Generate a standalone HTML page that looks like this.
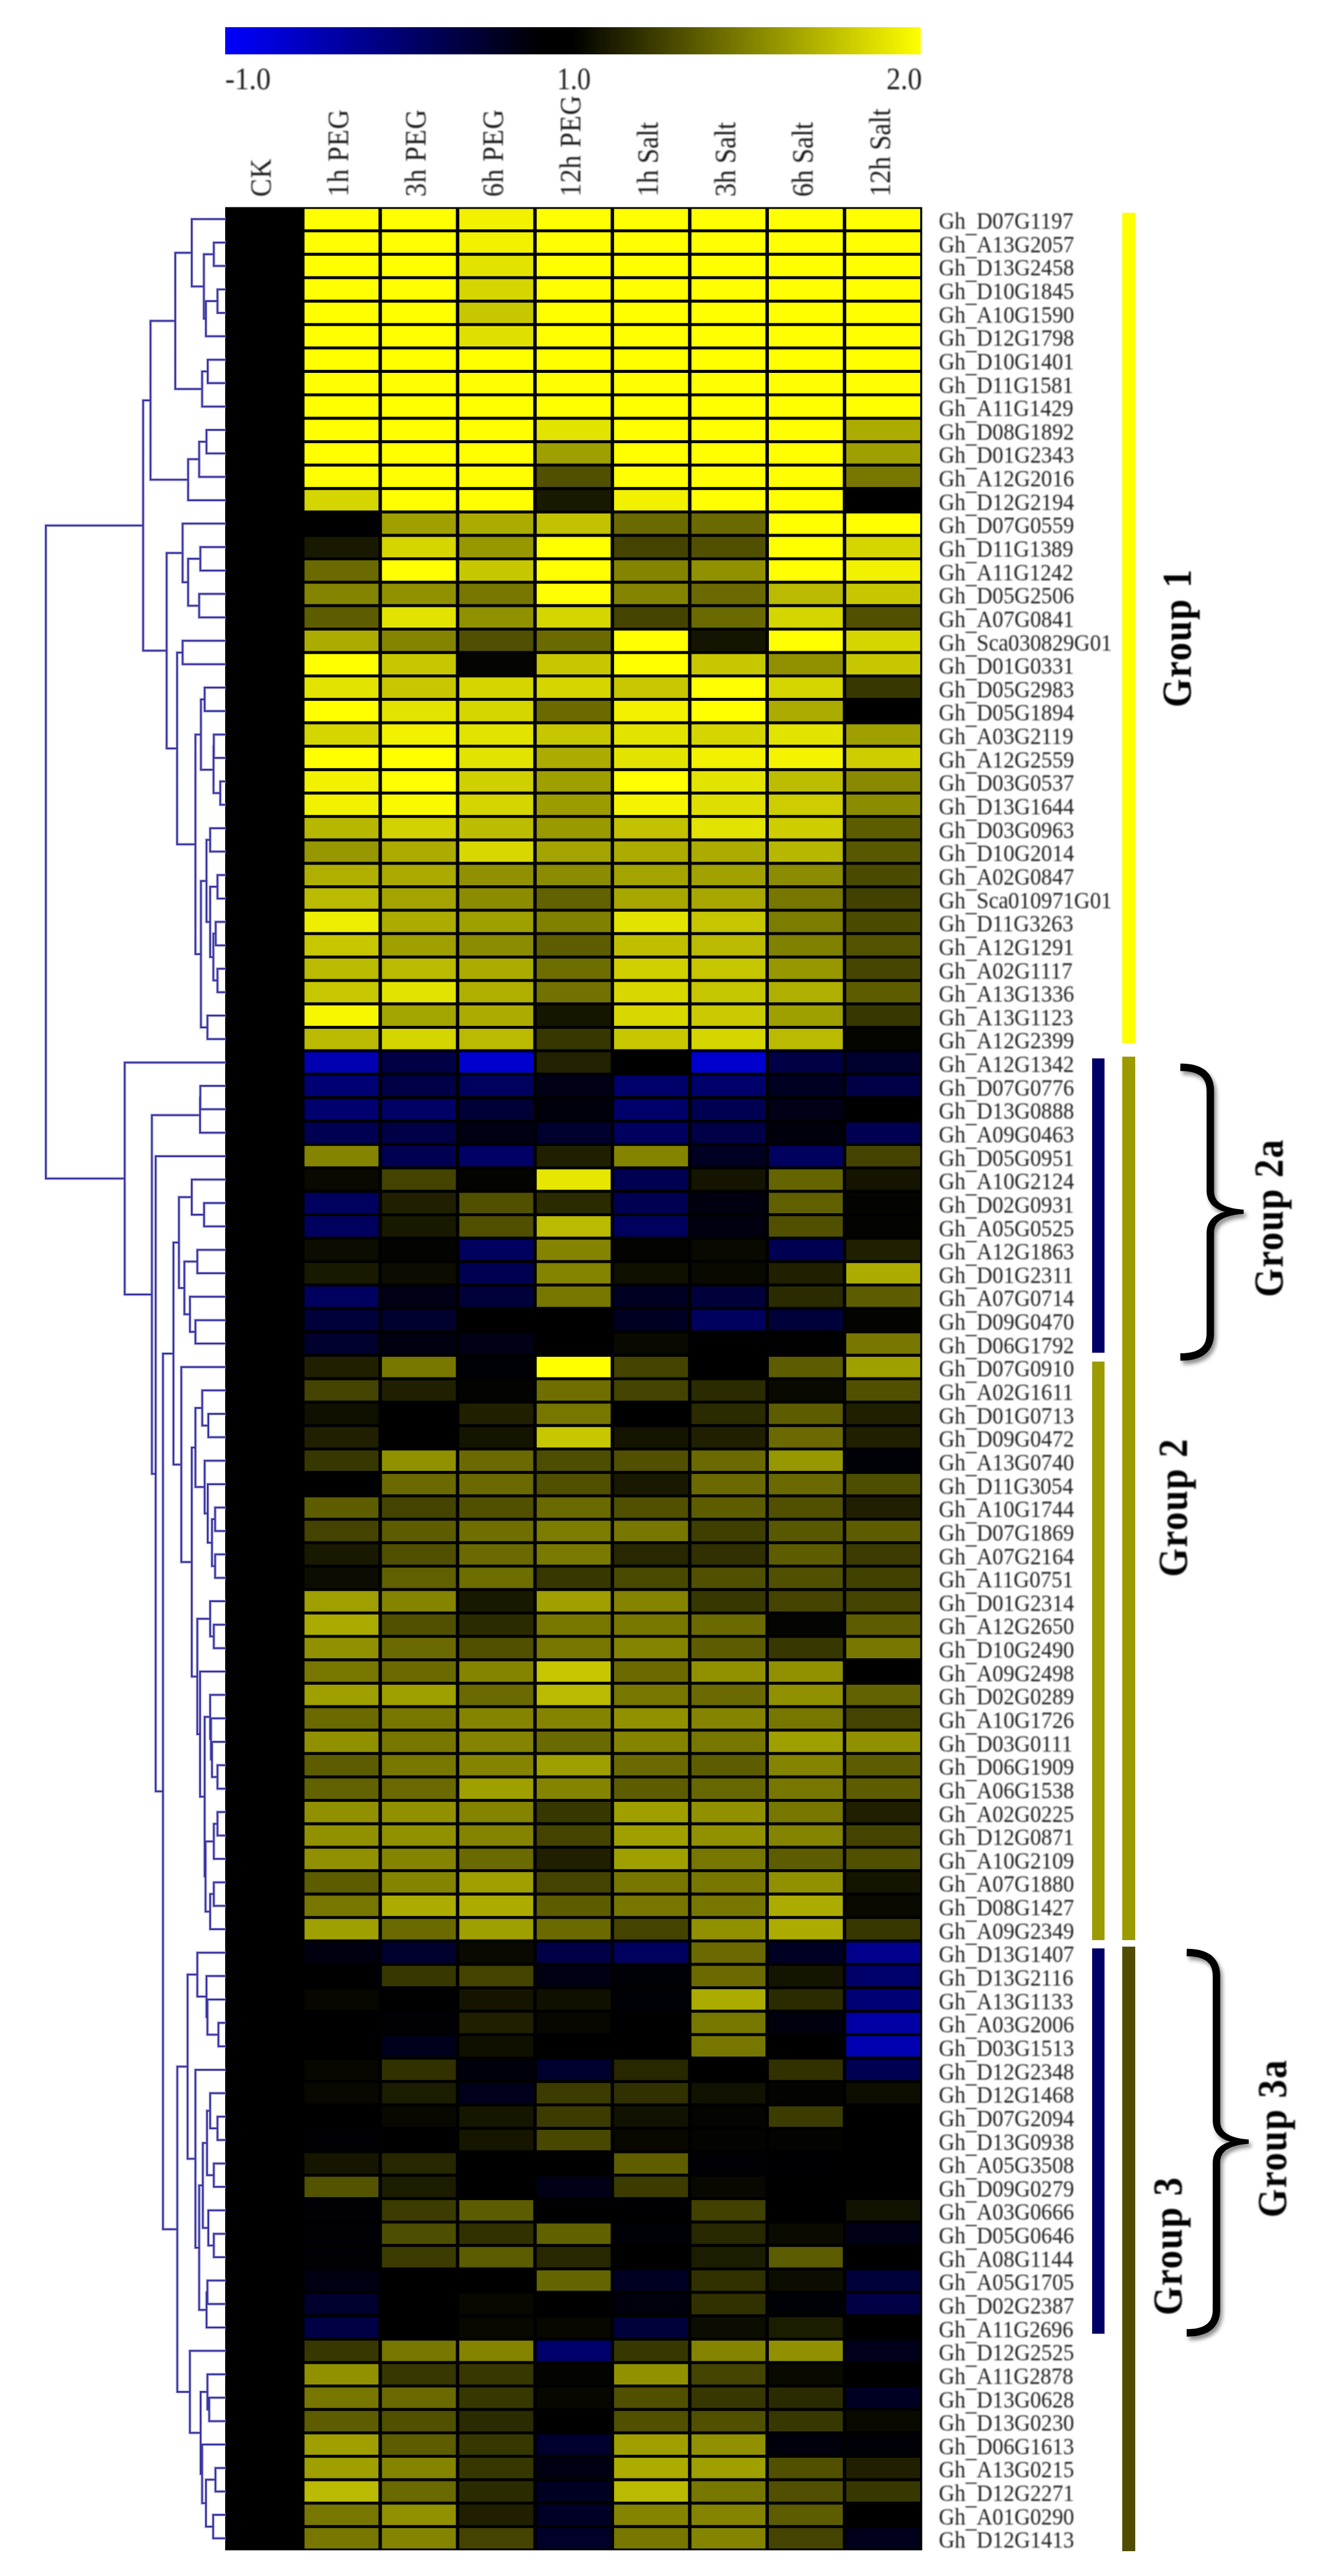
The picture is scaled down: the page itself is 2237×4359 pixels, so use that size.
<!DOCTYPE html>
<html><head><meta charset="utf-8"><title>Heatmap</title>
<style>html,body{margin:0;padding:0;background:#fff}svg{display:block}text{font-family:"Liberation Serif",serif;fill:#1c1c1c;filter:url(#bl)}.g text{font-size:40.4px;fill:#222}.b{font-weight:bold;fill:#000}.d path{fill:none;stroke:#3a36a0;stroke-width:3}.d path.h{stroke:#d8d8f0;stroke-width:6}</style></head><body>
<svg width="2237" height="4359" viewBox="0 0 2237 4359">
<defs><linearGradient id="cb" x1="0" x2="1" y1="0" y2="0"><stop offset="0" stop-color="#0000ff"/><stop offset="0.455" stop-color="#000000"/><stop offset="0.5" stop-color="#000000"/><stop offset="1" stop-color="#ffff00"/></linearGradient><filter id="bl" x="-2%" y="-2%" width="104%" height="104%"><feGaussianBlur stdDeviation="1.1"/></filter><filter id="sh" x="-30%" y="-10%" width="160%" height="120%"><feGaussianBlur in="SourceAlpha" stdDeviation="3.5"/><feOffset dx="4" dy="6"/><feComponentTransfer><feFuncA type="linear" slope="0.45"/></feComponentTransfer><feMerge><feMergeNode/><feMergeNode in="SourceGraphic"/></feMerge></filter></defs>
<rect width="2237" height="4359" fill="#fff"/>
<rect x="381" y="46" width="1177" height="46" fill="url(#cb)"/>
<text x="381" y="151" font-size="52" textLength="77" lengthAdjust="spacingAndGlyphs">-1.0</text>
<text x="942.5" y="151" font-size="52" textLength="57" lengthAdjust="spacingAndGlyphs">1.0</text>
<text x="1500" y="151" font-size="52" textLength="60" lengthAdjust="spacingAndGlyphs">2.0</text>
<text transform="translate(458.0,333) rotate(-90) scale(0.9,1)" font-size="51" letter-spacing="0.8">CK</text>
<text transform="translate(589.0,333) rotate(-90) scale(0.9,1)" font-size="51" letter-spacing="0.8">1h PEG</text>
<text transform="translate(720.0,333) rotate(-90) scale(0.9,1)" font-size="51" letter-spacing="0.8">3h PEG</text>
<text transform="translate(851.0,333) rotate(-90) scale(0.9,1)" font-size="51" letter-spacing="0.8">6h PEG</text>
<text transform="translate(982.0,333) rotate(-90) scale(0.9,1)" font-size="51" letter-spacing="0.8">12h PEG</text>
<text transform="translate(1113.0,333) rotate(-90) scale(0.9,1)" font-size="51" letter-spacing="-0.4">1h Salt</text>
<text transform="translate(1244.0,333) rotate(-90) scale(0.9,1)" font-size="51" letter-spacing="-0.4">3h Salt</text>
<text transform="translate(1375.0,333) rotate(-90) scale(0.9,1)" font-size="51" letter-spacing="-0.4">6h Salt</text>
<text transform="translate(1506.0,333) rotate(-90) scale(0.9,1)" font-size="51" letter-spacing="-0.4">12h Salt</text>
<rect x="381.0" y="350.5" width="1179.5" height="3965.0" fill="#000"/>
<rect x="515.3" y="353.5" width="125.1" height="34.6" fill="#ffff00"/>
<rect x="646.3" y="353.5" width="125.1" height="34.6" fill="#ffff00"/>
<rect x="777.2" y="353.5" width="125.1" height="34.6" fill="#f1f100"/>
<rect x="908.2" y="353.5" width="125.1" height="34.6" fill="#ffff00"/>
<rect x="1039.1" y="353.5" width="125.1" height="34.6" fill="#ffff00"/>
<rect x="1170.1" y="353.5" width="125.1" height="34.6" fill="#ffff00"/>
<rect x="1301.0" y="353.5" width="125.1" height="34.6" fill="#ffff00"/>
<rect x="1432.0" y="353.5" width="125.1" height="34.6" fill="#ffff00"/>
<rect x="515.3" y="393.1" width="125.1" height="34.6" fill="#ffff00"/>
<rect x="646.3" y="393.1" width="125.1" height="34.6" fill="#ffff00"/>
<rect x="777.2" y="393.1" width="125.1" height="34.6" fill="#f1f100"/>
<rect x="908.2" y="393.1" width="125.1" height="34.6" fill="#ffff00"/>
<rect x="1039.1" y="393.1" width="125.1" height="34.6" fill="#ffff00"/>
<rect x="1170.1" y="393.1" width="125.1" height="34.6" fill="#ffff00"/>
<rect x="1301.0" y="393.1" width="125.1" height="34.6" fill="#ffff00"/>
<rect x="1432.0" y="393.1" width="125.1" height="34.6" fill="#ffff00"/>
<rect x="515.3" y="432.8" width="125.1" height="34.6" fill="#ffff00"/>
<rect x="646.3" y="432.8" width="125.1" height="34.6" fill="#ffff00"/>
<rect x="777.2" y="432.8" width="125.1" height="34.6" fill="#e3e300"/>
<rect x="908.2" y="432.8" width="125.1" height="34.6" fill="#ffff00"/>
<rect x="1039.1" y="432.8" width="125.1" height="34.6" fill="#ffff00"/>
<rect x="1170.1" y="432.8" width="125.1" height="34.6" fill="#ffff00"/>
<rect x="1301.0" y="432.8" width="125.1" height="34.6" fill="#ffff00"/>
<rect x="1432.0" y="432.8" width="125.1" height="34.6" fill="#ffff00"/>
<rect x="515.3" y="472.4" width="125.1" height="34.6" fill="#ffff00"/>
<rect x="646.3" y="472.4" width="125.1" height="34.6" fill="#ffff00"/>
<rect x="777.2" y="472.4" width="125.1" height="34.6" fill="#d5d500"/>
<rect x="908.2" y="472.4" width="125.1" height="34.6" fill="#ffff00"/>
<rect x="1039.1" y="472.4" width="125.1" height="34.6" fill="#ffff00"/>
<rect x="1170.1" y="472.4" width="125.1" height="34.6" fill="#ffff00"/>
<rect x="1301.0" y="472.4" width="125.1" height="34.6" fill="#ffff00"/>
<rect x="1432.0" y="472.4" width="125.1" height="34.6" fill="#ffff00"/>
<rect x="515.3" y="512.1" width="125.1" height="34.6" fill="#ffff00"/>
<rect x="646.3" y="512.1" width="125.1" height="34.6" fill="#ffff00"/>
<rect x="777.2" y="512.1" width="125.1" height="34.6" fill="#c7c700"/>
<rect x="908.2" y="512.1" width="125.1" height="34.6" fill="#ffff00"/>
<rect x="1039.1" y="512.1" width="125.1" height="34.6" fill="#ffff00"/>
<rect x="1170.1" y="512.1" width="125.1" height="34.6" fill="#ffff00"/>
<rect x="1301.0" y="512.1" width="125.1" height="34.6" fill="#ffff00"/>
<rect x="1432.0" y="512.1" width="125.1" height="34.6" fill="#ffff00"/>
<rect x="515.3" y="551.7" width="125.1" height="34.6" fill="#ffff00"/>
<rect x="646.3" y="551.7" width="125.1" height="34.6" fill="#ffff00"/>
<rect x="777.2" y="551.7" width="125.1" height="34.6" fill="#e0e000"/>
<rect x="908.2" y="551.7" width="125.1" height="34.6" fill="#ffff00"/>
<rect x="1039.1" y="551.7" width="125.1" height="34.6" fill="#ffff00"/>
<rect x="1170.1" y="551.7" width="125.1" height="34.6" fill="#ffff00"/>
<rect x="1301.0" y="551.7" width="125.1" height="34.6" fill="#ffff00"/>
<rect x="1432.0" y="551.7" width="125.1" height="34.6" fill="#ffff00"/>
<rect x="515.3" y="591.3" width="125.1" height="34.6" fill="#ffff00"/>
<rect x="646.3" y="591.3" width="125.1" height="34.6" fill="#ffff00"/>
<rect x="777.2" y="591.3" width="125.1" height="34.6" fill="#ffff00"/>
<rect x="908.2" y="591.3" width="125.1" height="34.6" fill="#ffff00"/>
<rect x="1039.1" y="591.3" width="125.1" height="34.6" fill="#ffff00"/>
<rect x="1170.1" y="591.3" width="125.1" height="34.6" fill="#ffff00"/>
<rect x="1301.0" y="591.3" width="125.1" height="34.6" fill="#ffff00"/>
<rect x="1432.0" y="591.3" width="125.1" height="34.6" fill="#ffff00"/>
<rect x="515.3" y="631.0" width="125.1" height="34.6" fill="#ffff00"/>
<rect x="646.3" y="631.0" width="125.1" height="34.6" fill="#ffff00"/>
<rect x="777.2" y="631.0" width="125.1" height="34.6" fill="#ffff00"/>
<rect x="908.2" y="631.0" width="125.1" height="34.6" fill="#ffff00"/>
<rect x="1039.1" y="631.0" width="125.1" height="34.6" fill="#ffff00"/>
<rect x="1170.1" y="631.0" width="125.1" height="34.6" fill="#ffff00"/>
<rect x="1301.0" y="631.0" width="125.1" height="34.6" fill="#ffff00"/>
<rect x="1432.0" y="631.0" width="125.1" height="34.6" fill="#ffff00"/>
<rect x="515.3" y="670.6" width="125.1" height="34.6" fill="#ffff00"/>
<rect x="646.3" y="670.6" width="125.1" height="34.6" fill="#ffff00"/>
<rect x="777.2" y="670.6" width="125.1" height="34.6" fill="#ffff00"/>
<rect x="908.2" y="670.6" width="125.1" height="34.6" fill="#ffff00"/>
<rect x="1039.1" y="670.6" width="125.1" height="34.6" fill="#ffff00"/>
<rect x="1170.1" y="670.6" width="125.1" height="34.6" fill="#ffff00"/>
<rect x="1301.0" y="670.6" width="125.1" height="34.6" fill="#ffff00"/>
<rect x="1432.0" y="670.6" width="125.1" height="34.6" fill="#ffff00"/>
<rect x="515.3" y="710.3" width="125.1" height="34.6" fill="#ffff00"/>
<rect x="646.3" y="710.3" width="125.1" height="34.6" fill="#ffff00"/>
<rect x="777.2" y="710.3" width="125.1" height="34.6" fill="#ffff00"/>
<rect x="908.2" y="710.3" width="125.1" height="34.6" fill="#e3e300"/>
<rect x="1039.1" y="710.3" width="125.1" height="34.6" fill="#ffff00"/>
<rect x="1170.1" y="710.3" width="125.1" height="34.6" fill="#ffff00"/>
<rect x="1301.0" y="710.3" width="125.1" height="34.6" fill="#ffff00"/>
<rect x="1432.0" y="710.3" width="125.1" height="34.6" fill="#acac00"/>
<rect x="515.3" y="749.9" width="125.1" height="34.6" fill="#ffff00"/>
<rect x="646.3" y="749.9" width="125.1" height="34.6" fill="#ffff00"/>
<rect x="777.2" y="749.9" width="125.1" height="34.6" fill="#ffff00"/>
<rect x="908.2" y="749.9" width="125.1" height="34.6" fill="#9f9f00"/>
<rect x="1039.1" y="749.9" width="125.1" height="34.6" fill="#ffff00"/>
<rect x="1170.1" y="749.9" width="125.1" height="34.6" fill="#ffff00"/>
<rect x="1301.0" y="749.9" width="125.1" height="34.6" fill="#ffff00"/>
<rect x="1432.0" y="749.9" width="125.1" height="34.6" fill="#9f9f00"/>
<rect x="515.3" y="789.5" width="125.1" height="34.6" fill="#ffff00"/>
<rect x="646.3" y="789.5" width="125.1" height="34.6" fill="#ffff00"/>
<rect x="777.2" y="789.5" width="125.1" height="34.6" fill="#ffff00"/>
<rect x="908.2" y="789.5" width="125.1" height="34.6" fill="#505000"/>
<rect x="1039.1" y="789.5" width="125.1" height="34.6" fill="#ffff00"/>
<rect x="1170.1" y="789.5" width="125.1" height="34.6" fill="#ffff00"/>
<rect x="1301.0" y="789.5" width="125.1" height="34.6" fill="#ffff00"/>
<rect x="1432.0" y="789.5" width="125.1" height="34.6" fill="#777700"/>
<rect x="515.3" y="829.2" width="125.1" height="34.6" fill="#d5d500"/>
<rect x="646.3" y="829.2" width="125.1" height="34.6" fill="#ffff00"/>
<rect x="777.2" y="829.2" width="125.1" height="34.6" fill="#ffff00"/>
<rect x="908.2" y="829.2" width="125.1" height="34.6" fill="#191900"/>
<rect x="1039.1" y="829.2" width="125.1" height="34.6" fill="#f1f100"/>
<rect x="1170.1" y="829.2" width="125.1" height="34.6" fill="#ffff00"/>
<rect x="1301.0" y="829.2" width="125.1" height="34.6" fill="#ffff00"/>
<rect x="646.3" y="868.8" width="125.1" height="34.6" fill="#9f9f00"/>
<rect x="777.2" y="868.8" width="125.1" height="34.6" fill="#acac00"/>
<rect x="908.2" y="868.8" width="125.1" height="34.6" fill="#c2c200"/>
<rect x="1039.1" y="868.8" width="125.1" height="34.6" fill="#6a6a00"/>
<rect x="1170.1" y="868.8" width="125.1" height="34.6" fill="#6a6a00"/>
<rect x="1301.0" y="868.8" width="125.1" height="34.6" fill="#ffff00"/>
<rect x="1432.0" y="868.8" width="125.1" height="34.6" fill="#ffff00"/>
<rect x="515.3" y="908.5" width="125.1" height="34.6" fill="#191900"/>
<rect x="646.3" y="908.5" width="125.1" height="34.6" fill="#d5d500"/>
<rect x="777.2" y="908.5" width="125.1" height="34.6" fill="#979700"/>
<rect x="908.2" y="908.5" width="125.1" height="34.6" fill="#ffff00"/>
<rect x="1039.1" y="908.5" width="125.1" height="34.6" fill="#444400"/>
<rect x="1170.1" y="908.5" width="125.1" height="34.6" fill="#505000"/>
<rect x="1301.0" y="908.5" width="125.1" height="34.6" fill="#ffff00"/>
<rect x="1432.0" y="908.5" width="125.1" height="34.6" fill="#d5d500"/>
<rect x="515.3" y="948.1" width="125.1" height="34.6" fill="#6a6a00"/>
<rect x="646.3" y="948.1" width="125.1" height="34.6" fill="#ffff00"/>
<rect x="777.2" y="948.1" width="125.1" height="34.6" fill="#c7c700"/>
<rect x="908.2" y="948.1" width="125.1" height="34.6" fill="#ffff00"/>
<rect x="1039.1" y="948.1" width="125.1" height="34.6" fill="#848400"/>
<rect x="1170.1" y="948.1" width="125.1" height="34.6" fill="#919100"/>
<rect x="1301.0" y="948.1" width="125.1" height="34.6" fill="#ffff00"/>
<rect x="1432.0" y="948.1" width="125.1" height="34.6" fill="#f1f100"/>
<rect x="515.3" y="987.7" width="125.1" height="34.6" fill="#848400"/>
<rect x="646.3" y="987.7" width="125.1" height="34.6" fill="#919100"/>
<rect x="777.2" y="987.7" width="125.1" height="34.6" fill="#777700"/>
<rect x="908.2" y="987.7" width="125.1" height="34.6" fill="#ffff00"/>
<rect x="1039.1" y="987.7" width="125.1" height="34.6" fill="#848400"/>
<rect x="1170.1" y="987.7" width="125.1" height="34.6" fill="#6a6a00"/>
<rect x="1301.0" y="987.7" width="125.1" height="34.6" fill="#baba00"/>
<rect x="1432.0" y="987.7" width="125.1" height="34.6" fill="#c7c700"/>
<rect x="515.3" y="1027.4" width="125.1" height="34.6" fill="#5d5d00"/>
<rect x="646.3" y="1027.4" width="125.1" height="34.6" fill="#e3e300"/>
<rect x="777.2" y="1027.4" width="125.1" height="34.6" fill="#919100"/>
<rect x="908.2" y="1027.4" width="125.1" height="34.6" fill="#d5d500"/>
<rect x="1039.1" y="1027.4" width="125.1" height="34.6" fill="#444400"/>
<rect x="1170.1" y="1027.4" width="125.1" height="34.6" fill="#6a6a00"/>
<rect x="1301.0" y="1027.4" width="125.1" height="34.6" fill="#d5d500"/>
<rect x="1432.0" y="1027.4" width="125.1" height="34.6" fill="#505000"/>
<rect x="515.3" y="1067.0" width="125.1" height="34.6" fill="#acac00"/>
<rect x="646.3" y="1067.0" width="125.1" height="34.6" fill="#848400"/>
<rect x="777.2" y="1067.0" width="125.1" height="34.6" fill="#505000"/>
<rect x="908.2" y="1067.0" width="125.1" height="34.6" fill="#6a6a00"/>
<rect x="1039.1" y="1067.0" width="125.1" height="34.6" fill="#ffff00"/>
<rect x="1170.1" y="1067.0" width="125.1" height="34.6" fill="#141400"/>
<rect x="1301.0" y="1067.0" width="125.1" height="34.6" fill="#ffff00"/>
<rect x="1432.0" y="1067.0" width="125.1" height="34.6" fill="#d5d500"/>
<rect x="515.3" y="1106.7" width="125.1" height="34.6" fill="#ffff00"/>
<rect x="646.3" y="1106.7" width="125.1" height="34.6" fill="#c7c700"/>
<rect x="777.2" y="1106.7" width="125.1" height="34.6" fill="#050500"/>
<rect x="908.2" y="1106.7" width="125.1" height="34.6" fill="#c7c700"/>
<rect x="1039.1" y="1106.7" width="125.1" height="34.6" fill="#ffff00"/>
<rect x="1170.1" y="1106.7" width="125.1" height="34.6" fill="#c7c700"/>
<rect x="1301.0" y="1106.7" width="125.1" height="34.6" fill="#919100"/>
<rect x="1432.0" y="1106.7" width="125.1" height="34.6" fill="#c7c700"/>
<rect x="515.3" y="1146.3" width="125.1" height="34.6" fill="#e3e300"/>
<rect x="646.3" y="1146.3" width="125.1" height="34.6" fill="#c7c700"/>
<rect x="777.2" y="1146.3" width="125.1" height="34.6" fill="#d5d500"/>
<rect x="908.2" y="1146.3" width="125.1" height="34.6" fill="#d5d500"/>
<rect x="1039.1" y="1146.3" width="125.1" height="34.6" fill="#c7c700"/>
<rect x="1170.1" y="1146.3" width="125.1" height="34.6" fill="#ffff00"/>
<rect x="1301.0" y="1146.3" width="125.1" height="34.6" fill="#d5d500"/>
<rect x="1432.0" y="1146.3" width="125.1" height="34.6" fill="#373700"/>
<rect x="515.3" y="1185.9" width="125.1" height="34.6" fill="#ffff00"/>
<rect x="646.3" y="1185.9" width="125.1" height="34.6" fill="#e3e300"/>
<rect x="777.2" y="1185.9" width="125.1" height="34.6" fill="#d5d500"/>
<rect x="908.2" y="1185.9" width="125.1" height="34.6" fill="#6a6a00"/>
<rect x="1039.1" y="1185.9" width="125.1" height="34.6" fill="#f1f100"/>
<rect x="1170.1" y="1185.9" width="125.1" height="34.6" fill="#ffff00"/>
<rect x="1301.0" y="1185.9" width="125.1" height="34.6" fill="#acac00"/>
<rect x="515.3" y="1225.6" width="125.1" height="34.6" fill="#d5d500"/>
<rect x="646.3" y="1225.6" width="125.1" height="34.6" fill="#f1f100"/>
<rect x="777.2" y="1225.6" width="125.1" height="34.6" fill="#e3e300"/>
<rect x="908.2" y="1225.6" width="125.1" height="34.6" fill="#c7c700"/>
<rect x="1039.1" y="1225.6" width="125.1" height="34.6" fill="#e3e300"/>
<rect x="1170.1" y="1225.6" width="125.1" height="34.6" fill="#d5d500"/>
<rect x="1301.0" y="1225.6" width="125.1" height="34.6" fill="#e3e300"/>
<rect x="1432.0" y="1225.6" width="125.1" height="34.6" fill="#9f9f00"/>
<rect x="515.3" y="1265.2" width="125.1" height="34.6" fill="#ffff00"/>
<rect x="646.3" y="1265.2" width="125.1" height="34.6" fill="#ffff00"/>
<rect x="777.2" y="1265.2" width="125.1" height="34.6" fill="#e3e300"/>
<rect x="908.2" y="1265.2" width="125.1" height="34.6" fill="#acac00"/>
<rect x="1039.1" y="1265.2" width="125.1" height="34.6" fill="#e3e300"/>
<rect x="1170.1" y="1265.2" width="125.1" height="34.6" fill="#f1f100"/>
<rect x="1301.0" y="1265.2" width="125.1" height="34.6" fill="#f4f400"/>
<rect x="1432.0" y="1265.2" width="125.1" height="34.6" fill="#cdcd00"/>
<rect x="515.3" y="1304.9" width="125.1" height="34.6" fill="#f1f100"/>
<rect x="646.3" y="1304.9" width="125.1" height="34.6" fill="#ffff00"/>
<rect x="777.2" y="1304.9" width="125.1" height="34.6" fill="#d0d000"/>
<rect x="908.2" y="1304.9" width="125.1" height="34.6" fill="#9f9f00"/>
<rect x="1039.1" y="1304.9" width="125.1" height="34.6" fill="#ffff00"/>
<rect x="1170.1" y="1304.9" width="125.1" height="34.6" fill="#e3e300"/>
<rect x="1301.0" y="1304.9" width="125.1" height="34.6" fill="#bdbd00"/>
<rect x="1432.0" y="1304.9" width="125.1" height="34.6" fill="#898900"/>
<rect x="515.3" y="1344.5" width="125.1" height="34.6" fill="#f1f100"/>
<rect x="646.3" y="1344.5" width="125.1" height="34.6" fill="#f9f900"/>
<rect x="777.2" y="1344.5" width="125.1" height="34.6" fill="#d5d500"/>
<rect x="908.2" y="1344.5" width="125.1" height="34.6" fill="#9c9c00"/>
<rect x="1039.1" y="1344.5" width="125.1" height="34.6" fill="#f4f400"/>
<rect x="1170.1" y="1344.5" width="125.1" height="34.6" fill="#dede00"/>
<rect x="1301.0" y="1344.5" width="125.1" height="34.6" fill="#cdcd00"/>
<rect x="1432.0" y="1344.5" width="125.1" height="34.6" fill="#8c8c00"/>
<rect x="515.3" y="1384.1" width="125.1" height="34.6" fill="#b7b700"/>
<rect x="646.3" y="1384.1" width="125.1" height="34.6" fill="#d2d200"/>
<rect x="777.2" y="1384.1" width="125.1" height="34.6" fill="#bdbd00"/>
<rect x="908.2" y="1384.1" width="125.1" height="34.6" fill="#999900"/>
<rect x="1039.1" y="1384.1" width="125.1" height="34.6" fill="#c2c200"/>
<rect x="1170.1" y="1384.1" width="125.1" height="34.6" fill="#e3e300"/>
<rect x="1301.0" y="1384.1" width="125.1" height="34.6" fill="#cdcd00"/>
<rect x="1432.0" y="1384.1" width="125.1" height="34.6" fill="#5d5d00"/>
<rect x="515.3" y="1423.8" width="125.1" height="34.6" fill="#979700"/>
<rect x="646.3" y="1423.8" width="125.1" height="34.6" fill="#acac00"/>
<rect x="777.2" y="1423.8" width="125.1" height="34.6" fill="#d8d800"/>
<rect x="908.2" y="1423.8" width="125.1" height="34.6" fill="#a4a400"/>
<rect x="1039.1" y="1423.8" width="125.1" height="34.6" fill="#acac00"/>
<rect x="1170.1" y="1423.8" width="125.1" height="34.6" fill="#acac00"/>
<rect x="1301.0" y="1423.8" width="125.1" height="34.6" fill="#b7b700"/>
<rect x="1432.0" y="1423.8" width="125.1" height="34.6" fill="#585800"/>
<rect x="515.3" y="1463.4" width="125.1" height="34.6" fill="#afaf00"/>
<rect x="646.3" y="1463.4" width="125.1" height="34.6" fill="#aaaa00"/>
<rect x="777.2" y="1463.4" width="125.1" height="34.6" fill="#919100"/>
<rect x="908.2" y="1463.4" width="125.1" height="34.6" fill="#8c8c00"/>
<rect x="1039.1" y="1463.4" width="125.1" height="34.6" fill="#a4a400"/>
<rect x="1170.1" y="1463.4" width="125.1" height="34.6" fill="#a1a100"/>
<rect x="1301.0" y="1463.4" width="125.1" height="34.6" fill="#8c8c00"/>
<rect x="1432.0" y="1463.4" width="125.1" height="34.6" fill="#4b4b00"/>
<rect x="515.3" y="1503.1" width="125.1" height="34.6" fill="#baba00"/>
<rect x="646.3" y="1503.1" width="125.1" height="34.6" fill="#a4a400"/>
<rect x="777.2" y="1503.1" width="125.1" height="34.6" fill="#8c8c00"/>
<rect x="908.2" y="1503.1" width="125.1" height="34.6" fill="#626200"/>
<rect x="1039.1" y="1503.1" width="125.1" height="34.6" fill="#a7a700"/>
<rect x="1170.1" y="1503.1" width="125.1" height="34.6" fill="#a7a700"/>
<rect x="1301.0" y="1503.1" width="125.1" height="34.6" fill="#777700"/>
<rect x="1432.0" y="1503.1" width="125.1" height="34.6" fill="#414100"/>
<rect x="515.3" y="1542.7" width="125.1" height="34.6" fill="#eeee00"/>
<rect x="646.3" y="1542.7" width="125.1" height="34.6" fill="#acac00"/>
<rect x="777.2" y="1542.7" width="125.1" height="34.6" fill="#9f9f00"/>
<rect x="908.2" y="1542.7" width="125.1" height="34.6" fill="#818100"/>
<rect x="1039.1" y="1542.7" width="125.1" height="34.6" fill="#e3e300"/>
<rect x="1170.1" y="1542.7" width="125.1" height="34.6" fill="#c5c500"/>
<rect x="1301.0" y="1542.7" width="125.1" height="34.6" fill="#7c7c00"/>
<rect x="1432.0" y="1542.7" width="125.1" height="34.6" fill="#4b4b00"/>
<rect x="515.3" y="1582.3" width="125.1" height="34.6" fill="#c7c700"/>
<rect x="646.3" y="1582.3" width="125.1" height="34.6" fill="#9f9f00"/>
<rect x="777.2" y="1582.3" width="125.1" height="34.6" fill="#8c8c00"/>
<rect x="908.2" y="1582.3" width="125.1" height="34.6" fill="#5d5d00"/>
<rect x="1039.1" y="1582.3" width="125.1" height="34.6" fill="#bfbf00"/>
<rect x="1170.1" y="1582.3" width="125.1" height="34.6" fill="#baba00"/>
<rect x="1301.0" y="1582.3" width="125.1" height="34.6" fill="#818100"/>
<rect x="1432.0" y="1582.3" width="125.1" height="34.6" fill="#535300"/>
<rect x="515.3" y="1622.0" width="125.1" height="34.6" fill="#baba00"/>
<rect x="646.3" y="1622.0" width="125.1" height="34.6" fill="#baba00"/>
<rect x="777.2" y="1622.0" width="125.1" height="34.6" fill="#acac00"/>
<rect x="908.2" y="1622.0" width="125.1" height="34.6" fill="#6d6d00"/>
<rect x="1039.1" y="1622.0" width="125.1" height="34.6" fill="#d0d000"/>
<rect x="1170.1" y="1622.0" width="125.1" height="34.6" fill="#c5c500"/>
<rect x="1301.0" y="1622.0" width="125.1" height="34.6" fill="#979700"/>
<rect x="1432.0" y="1622.0" width="125.1" height="34.6" fill="#464600"/>
<rect x="515.3" y="1661.6" width="125.1" height="34.6" fill="#c7c700"/>
<rect x="646.3" y="1661.6" width="125.1" height="34.6" fill="#e3e300"/>
<rect x="777.2" y="1661.6" width="125.1" height="34.6" fill="#afaf00"/>
<rect x="908.2" y="1661.6" width="125.1" height="34.6" fill="#727200"/>
<rect x="1039.1" y="1661.6" width="125.1" height="34.6" fill="#d8d800"/>
<rect x="1170.1" y="1661.6" width="125.1" height="34.6" fill="#c5c500"/>
<rect x="1301.0" y="1661.6" width="125.1" height="34.6" fill="#afaf00"/>
<rect x="1432.0" y="1661.6" width="125.1" height="34.6" fill="#5d5d00"/>
<rect x="515.3" y="1701.3" width="125.1" height="34.6" fill="#f7f700"/>
<rect x="646.3" y="1701.3" width="125.1" height="34.6" fill="#a4a400"/>
<rect x="777.2" y="1701.3" width="125.1" height="34.6" fill="#acac00"/>
<rect x="908.2" y="1701.3" width="125.1" height="34.6" fill="#161600"/>
<rect x="1039.1" y="1701.3" width="125.1" height="34.6" fill="#d8d800"/>
<rect x="1170.1" y="1701.3" width="125.1" height="34.6" fill="#caca00"/>
<rect x="1301.0" y="1701.3" width="125.1" height="34.6" fill="#9f9f00"/>
<rect x="1432.0" y="1701.3" width="125.1" height="34.6" fill="#373700"/>
<rect x="515.3" y="1740.9" width="125.1" height="34.6" fill="#baba00"/>
<rect x="646.3" y="1740.9" width="125.1" height="34.6" fill="#d5d500"/>
<rect x="777.2" y="1740.9" width="125.1" height="34.6" fill="#baba00"/>
<rect x="908.2" y="1740.9" width="125.1" height="34.6" fill="#373700"/>
<rect x="1039.1" y="1740.9" width="125.1" height="34.6" fill="#c7c700"/>
<rect x="1170.1" y="1740.9" width="125.1" height="34.6" fill="#d5d500"/>
<rect x="1301.0" y="1740.9" width="125.1" height="34.6" fill="#baba00"/>
<rect x="1432.0" y="1740.9" width="125.1" height="34.6" fill="#050500"/>
<rect x="515.3" y="1780.5" width="125.1" height="34.6" fill="#0000b0"/>
<rect x="646.3" y="1780.5" width="125.1" height="34.6" fill="#000046"/>
<rect x="777.2" y="1780.5" width="125.1" height="34.6" fill="#0000ce"/>
<rect x="908.2" y="1780.5" width="125.1" height="34.6" fill="#222200"/>
<rect x="1170.1" y="1780.5" width="125.1" height="34.6" fill="#0000ce"/>
<rect x="1301.0" y="1780.5" width="125.1" height="34.6" fill="#000046"/>
<rect x="1432.0" y="1780.5" width="125.1" height="34.6" fill="#00002f"/>
<rect x="515.3" y="1820.2" width="125.1" height="34.6" fill="#000075"/>
<rect x="646.3" y="1820.2" width="125.1" height="34.6" fill="#000046"/>
<rect x="777.2" y="1820.2" width="125.1" height="34.6" fill="#00005e"/>
<rect x="908.2" y="1820.2" width="125.1" height="34.6" fill="#000017"/>
<rect x="1039.1" y="1820.2" width="125.1" height="34.6" fill="#00006a"/>
<rect x="1170.1" y="1820.2" width="125.1" height="34.6" fill="#00006a"/>
<rect x="1301.0" y="1820.2" width="125.1" height="34.6" fill="#000023"/>
<rect x="1432.0" y="1820.2" width="125.1" height="34.6" fill="#000046"/>
<rect x="515.3" y="1859.8" width="125.1" height="34.6" fill="#00006e"/>
<rect x="646.3" y="1859.8" width="125.1" height="34.6" fill="#000065"/>
<rect x="777.2" y="1859.8" width="125.1" height="34.6" fill="#000036"/>
<rect x="908.2" y="1859.8" width="125.1" height="34.6" fill="#00000c"/>
<rect x="1039.1" y="1859.8" width="125.1" height="34.6" fill="#00006a"/>
<rect x="1170.1" y="1859.8" width="125.1" height="34.6" fill="#000052"/>
<rect x="1301.0" y="1859.8" width="125.1" height="34.6" fill="#000017"/>
<rect x="515.3" y="1899.5" width="125.1" height="34.6" fill="#000052"/>
<rect x="646.3" y="1899.5" width="125.1" height="34.6" fill="#000046"/>
<rect x="777.2" y="1899.5" width="125.1" height="34.6" fill="#000013"/>
<rect x="908.2" y="1899.5" width="125.1" height="34.6" fill="#00002f"/>
<rect x="1039.1" y="1899.5" width="125.1" height="34.6" fill="#00005e"/>
<rect x="1170.1" y="1899.5" width="125.1" height="34.6" fill="#000046"/>
<rect x="1301.0" y="1899.5" width="125.1" height="34.6" fill="#00000c"/>
<rect x="1432.0" y="1899.5" width="125.1" height="34.6" fill="#000052"/>
<rect x="515.3" y="1939.1" width="125.1" height="34.6" fill="#848400"/>
<rect x="646.3" y="1939.1" width="125.1" height="34.6" fill="#000052"/>
<rect x="777.2" y="1939.1" width="125.1" height="34.6" fill="#000065"/>
<rect x="908.2" y="1939.1" width="125.1" height="34.6" fill="#202000"/>
<rect x="1039.1" y="1939.1" width="125.1" height="34.6" fill="#848400"/>
<rect x="1170.1" y="1939.1" width="125.1" height="34.6" fill="#000023"/>
<rect x="1301.0" y="1939.1" width="125.1" height="34.6" fill="#00005e"/>
<rect x="1432.0" y="1939.1" width="125.1" height="34.6" fill="#444400"/>
<rect x="515.3" y="1978.7" width="125.1" height="34.6" fill="#090900"/>
<rect x="646.3" y="1978.7" width="125.1" height="34.6" fill="#444400"/>
<rect x="777.2" y="1978.7" width="125.1" height="34.6" fill="#030300"/>
<rect x="908.2" y="1978.7" width="125.1" height="34.6" fill="#e6e600"/>
<rect x="1039.1" y="1978.7" width="125.1" height="34.6" fill="#000052"/>
<rect x="1170.1" y="1978.7" width="125.1" height="34.6" fill="#141400"/>
<rect x="1301.0" y="1978.7" width="125.1" height="34.6" fill="#656500"/>
<rect x="1432.0" y="1978.7" width="125.1" height="34.6" fill="#141400"/>
<rect x="515.3" y="2018.4" width="125.1" height="34.6" fill="#00005e"/>
<rect x="646.3" y="2018.4" width="125.1" height="34.6" fill="#202000"/>
<rect x="777.2" y="2018.4" width="125.1" height="34.6" fill="#505000"/>
<rect x="908.2" y="2018.4" width="125.1" height="34.6" fill="#2b2b00"/>
<rect x="1039.1" y="2018.4" width="125.1" height="34.6" fill="#000052"/>
<rect x="1170.1" y="2018.4" width="125.1" height="34.6" fill="#000010"/>
<rect x="1301.0" y="2018.4" width="125.1" height="34.6" fill="#606000"/>
<rect x="1432.0" y="2018.4" width="125.1" height="34.6" fill="#030300"/>
<rect x="515.3" y="2058.0" width="125.1" height="34.6" fill="#00005e"/>
<rect x="646.3" y="2058.0" width="125.1" height="34.6" fill="#191900"/>
<rect x="777.2" y="2058.0" width="125.1" height="34.6" fill="#505000"/>
<rect x="908.2" y="2058.0" width="125.1" height="34.6" fill="#baba00"/>
<rect x="1039.1" y="2058.0" width="125.1" height="34.6" fill="#00005e"/>
<rect x="1170.1" y="2058.0" width="125.1" height="34.6" fill="#000010"/>
<rect x="1301.0" y="2058.0" width="125.1" height="34.6" fill="#505000"/>
<rect x="1432.0" y="2058.0" width="125.1" height="34.6" fill="#030300"/>
<rect x="515.3" y="2097.7" width="125.1" height="34.6" fill="#0c0c00"/>
<rect x="646.3" y="2097.7" width="125.1" height="34.6" fill="#030300"/>
<rect x="777.2" y="2097.7" width="125.1" height="34.6" fill="#00005e"/>
<rect x="908.2" y="2097.7" width="125.1" height="34.6" fill="#848400"/>
<rect x="1039.1" y="2097.7" width="125.1" height="34.6" fill="#030300"/>
<rect x="1170.1" y="2097.7" width="125.1" height="34.6" fill="#090900"/>
<rect x="1301.0" y="2097.7" width="125.1" height="34.6" fill="#000052"/>
<rect x="1432.0" y="2097.7" width="125.1" height="34.6" fill="#202000"/>
<rect x="515.3" y="2137.3" width="125.1" height="34.6" fill="#191900"/>
<rect x="646.3" y="2137.3" width="125.1" height="34.6" fill="#0c0c00"/>
<rect x="777.2" y="2137.3" width="125.1" height="34.6" fill="#000052"/>
<rect x="908.2" y="2137.3" width="125.1" height="34.6" fill="#848400"/>
<rect x="1039.1" y="2137.3" width="125.1" height="34.6" fill="#101000"/>
<rect x="1170.1" y="2137.3" width="125.1" height="34.6" fill="#090900"/>
<rect x="1301.0" y="2137.3" width="125.1" height="34.6" fill="#202000"/>
<rect x="1432.0" y="2137.3" width="125.1" height="34.6" fill="#acac00"/>
<rect x="515.3" y="2176.9" width="125.1" height="34.6" fill="#00005e"/>
<rect x="646.3" y="2176.9" width="125.1" height="34.6" fill="#000017"/>
<rect x="777.2" y="2176.9" width="125.1" height="34.6" fill="#00003b"/>
<rect x="908.2" y="2176.9" width="125.1" height="34.6" fill="#777700"/>
<rect x="1039.1" y="2176.9" width="125.1" height="34.6" fill="#000023"/>
<rect x="1170.1" y="2176.9" width="125.1" height="34.6" fill="#00003b"/>
<rect x="1301.0" y="2176.9" width="125.1" height="34.6" fill="#2b2b00"/>
<rect x="1432.0" y="2176.9" width="125.1" height="34.6" fill="#5d5d00"/>
<rect x="515.3" y="2216.6" width="125.1" height="34.6" fill="#00003b"/>
<rect x="646.3" y="2216.6" width="125.1" height="34.6" fill="#00002f"/>
<rect x="1039.1" y="2216.6" width="125.1" height="34.6" fill="#000023"/>
<rect x="1170.1" y="2216.6" width="125.1" height="34.6" fill="#00005e"/>
<rect x="1301.0" y="2216.6" width="125.1" height="34.6" fill="#00003b"/>
<rect x="1432.0" y="2216.6" width="125.1" height="34.6" fill="#030300"/>
<rect x="515.3" y="2256.2" width="125.1" height="34.6" fill="#00002f"/>
<rect x="646.3" y="2256.2" width="125.1" height="34.6" fill="#000010"/>
<rect x="777.2" y="2256.2" width="125.1" height="34.6" fill="#000017"/>
<rect x="1039.1" y="2256.2" width="125.1" height="34.6" fill="#090900"/>
<rect x="1432.0" y="2256.2" width="125.1" height="34.6" fill="#777700"/>
<rect x="515.3" y="2295.9" width="125.1" height="34.6" fill="#202000"/>
<rect x="646.3" y="2295.9" width="125.1" height="34.6" fill="#777700"/>
<rect x="777.2" y="2295.9" width="125.1" height="34.6" fill="#000007"/>
<rect x="908.2" y="2295.9" width="125.1" height="34.6" fill="#ffff00"/>
<rect x="1039.1" y="2295.9" width="125.1" height="34.6" fill="#444400"/>
<rect x="1301.0" y="2295.9" width="125.1" height="34.6" fill="#5d5d00"/>
<rect x="1432.0" y="2295.9" width="125.1" height="34.6" fill="#9f9f00"/>
<rect x="515.3" y="2335.5" width="125.1" height="34.6" fill="#444400"/>
<rect x="646.3" y="2335.5" width="125.1" height="34.6" fill="#202000"/>
<rect x="777.2" y="2335.5" width="125.1" height="34.6" fill="#030300"/>
<rect x="908.2" y="2335.5" width="125.1" height="34.6" fill="#6f6f00"/>
<rect x="1039.1" y="2335.5" width="125.1" height="34.6" fill="#444400"/>
<rect x="1170.1" y="2335.5" width="125.1" height="34.6" fill="#2b2b00"/>
<rect x="1301.0" y="2335.5" width="125.1" height="34.6" fill="#090900"/>
<rect x="1432.0" y="2335.5" width="125.1" height="34.6" fill="#505000"/>
<rect x="515.3" y="2375.1" width="125.1" height="34.6" fill="#101000"/>
<rect x="777.2" y="2375.1" width="125.1" height="34.6" fill="#202000"/>
<rect x="908.2" y="2375.1" width="125.1" height="34.6" fill="#777700"/>
<rect x="1170.1" y="2375.1" width="125.1" height="34.6" fill="#2b2b00"/>
<rect x="1301.0" y="2375.1" width="125.1" height="34.6" fill="#5d5d00"/>
<rect x="1432.0" y="2375.1" width="125.1" height="34.6" fill="#202000"/>
<rect x="515.3" y="2414.8" width="125.1" height="34.6" fill="#202000"/>
<rect x="777.2" y="2414.8" width="125.1" height="34.6" fill="#141400"/>
<rect x="908.2" y="2414.8" width="125.1" height="34.6" fill="#c7c700"/>
<rect x="1039.1" y="2414.8" width="125.1" height="34.6" fill="#141400"/>
<rect x="1170.1" y="2414.8" width="125.1" height="34.6" fill="#202000"/>
<rect x="1301.0" y="2414.8" width="125.1" height="34.6" fill="#6a6a00"/>
<rect x="1432.0" y="2414.8" width="125.1" height="34.6" fill="#202000"/>
<rect x="515.3" y="2454.4" width="125.1" height="34.6" fill="#373700"/>
<rect x="646.3" y="2454.4" width="125.1" height="34.6" fill="#919100"/>
<rect x="777.2" y="2454.4" width="125.1" height="34.6" fill="#6a6a00"/>
<rect x="908.2" y="2454.4" width="125.1" height="34.6" fill="#4e4e00"/>
<rect x="1039.1" y="2454.4" width="125.1" height="34.6" fill="#505000"/>
<rect x="1170.1" y="2454.4" width="125.1" height="34.6" fill="#6a6a00"/>
<rect x="1301.0" y="2454.4" width="125.1" height="34.6" fill="#979700"/>
<rect x="1432.0" y="2454.4" width="125.1" height="34.6" fill="#000007"/>
<rect x="646.3" y="2494.1" width="125.1" height="34.6" fill="#6a6a00"/>
<rect x="777.2" y="2494.1" width="125.1" height="34.6" fill="#6a6a00"/>
<rect x="908.2" y="2494.1" width="125.1" height="34.6" fill="#505000"/>
<rect x="1039.1" y="2494.1" width="125.1" height="34.6" fill="#191900"/>
<rect x="1170.1" y="2494.1" width="125.1" height="34.6" fill="#6a6a00"/>
<rect x="1301.0" y="2494.1" width="125.1" height="34.6" fill="#6a6a00"/>
<rect x="1432.0" y="2494.1" width="125.1" height="34.6" fill="#4e4e00"/>
<rect x="515.3" y="2533.7" width="125.1" height="34.6" fill="#5d5d00"/>
<rect x="646.3" y="2533.7" width="125.1" height="34.6" fill="#444400"/>
<rect x="777.2" y="2533.7" width="125.1" height="34.6" fill="#505000"/>
<rect x="908.2" y="2533.7" width="125.1" height="34.6" fill="#6a6a00"/>
<rect x="1039.1" y="2533.7" width="125.1" height="34.6" fill="#505000"/>
<rect x="1170.1" y="2533.7" width="125.1" height="34.6" fill="#5d5d00"/>
<rect x="1301.0" y="2533.7" width="125.1" height="34.6" fill="#505000"/>
<rect x="1432.0" y="2533.7" width="125.1" height="34.6" fill="#202000"/>
<rect x="515.3" y="2573.3" width="125.1" height="34.6" fill="#444400"/>
<rect x="646.3" y="2573.3" width="125.1" height="34.6" fill="#5d5d00"/>
<rect x="777.2" y="2573.3" width="125.1" height="34.6" fill="#6f6f00"/>
<rect x="908.2" y="2573.3" width="125.1" height="34.6" fill="#7c7c00"/>
<rect x="1039.1" y="2573.3" width="125.1" height="34.6" fill="#777700"/>
<rect x="1170.1" y="2573.3" width="125.1" height="34.6" fill="#3f3f00"/>
<rect x="1301.0" y="2573.3" width="125.1" height="34.6" fill="#585800"/>
<rect x="1432.0" y="2573.3" width="125.1" height="34.6" fill="#5d5d00"/>
<rect x="515.3" y="2613.0" width="125.1" height="34.6" fill="#191900"/>
<rect x="646.3" y="2613.0" width="125.1" height="34.6" fill="#505000"/>
<rect x="777.2" y="2613.0" width="125.1" height="34.6" fill="#6a6a00"/>
<rect x="908.2" y="2613.0" width="125.1" height="34.6" fill="#7a7a00"/>
<rect x="1039.1" y="2613.0" width="125.1" height="34.6" fill="#272700"/>
<rect x="1170.1" y="2613.0" width="125.1" height="34.6" fill="#303000"/>
<rect x="1301.0" y="2613.0" width="125.1" height="34.6" fill="#5d5d00"/>
<rect x="1432.0" y="2613.0" width="125.1" height="34.6" fill="#3c3c00"/>
<rect x="515.3" y="2652.6" width="125.1" height="34.6" fill="#0c0c00"/>
<rect x="646.3" y="2652.6" width="125.1" height="34.6" fill="#606000"/>
<rect x="777.2" y="2652.6" width="125.1" height="34.6" fill="#6d6d00"/>
<rect x="908.2" y="2652.6" width="125.1" height="34.6" fill="#373700"/>
<rect x="1039.1" y="2652.6" width="125.1" height="34.6" fill="#494900"/>
<rect x="1170.1" y="2652.6" width="125.1" height="34.6" fill="#505000"/>
<rect x="1301.0" y="2652.6" width="125.1" height="34.6" fill="#505000"/>
<rect x="1432.0" y="2652.6" width="125.1" height="34.6" fill="#414100"/>
<rect x="515.3" y="2692.3" width="125.1" height="34.6" fill="#9f9f00"/>
<rect x="646.3" y="2692.3" width="125.1" height="34.6" fill="#848400"/>
<rect x="777.2" y="2692.3" width="125.1" height="34.6" fill="#191900"/>
<rect x="908.2" y="2692.3" width="125.1" height="34.6" fill="#9f9f00"/>
<rect x="1039.1" y="2692.3" width="125.1" height="34.6" fill="#848400"/>
<rect x="1170.1" y="2692.3" width="125.1" height="34.6" fill="#373700"/>
<rect x="1301.0" y="2692.3" width="125.1" height="34.6" fill="#444400"/>
<rect x="1432.0" y="2692.3" width="125.1" height="34.6" fill="#444400"/>
<rect x="515.3" y="2731.9" width="125.1" height="34.6" fill="#aaaa00"/>
<rect x="646.3" y="2731.9" width="125.1" height="34.6" fill="#505000"/>
<rect x="777.2" y="2731.9" width="125.1" height="34.6" fill="#2b2b00"/>
<rect x="908.2" y="2731.9" width="125.1" height="34.6" fill="#777700"/>
<rect x="1039.1" y="2731.9" width="125.1" height="34.6" fill="#777700"/>
<rect x="1170.1" y="2731.9" width="125.1" height="34.6" fill="#6a6a00"/>
<rect x="1301.0" y="2731.9" width="125.1" height="34.6" fill="#050500"/>
<rect x="1432.0" y="2731.9" width="125.1" height="34.6" fill="#5d5d00"/>
<rect x="515.3" y="2771.5" width="125.1" height="34.6" fill="#919100"/>
<rect x="646.3" y="2771.5" width="125.1" height="34.6" fill="#6a6a00"/>
<rect x="777.2" y="2771.5" width="125.1" height="34.6" fill="#505000"/>
<rect x="908.2" y="2771.5" width="125.1" height="34.6" fill="#777700"/>
<rect x="1039.1" y="2771.5" width="125.1" height="34.6" fill="#848400"/>
<rect x="1170.1" y="2771.5" width="125.1" height="34.6" fill="#5d5d00"/>
<rect x="1301.0" y="2771.5" width="125.1" height="34.6" fill="#373700"/>
<rect x="1432.0" y="2771.5" width="125.1" height="34.6" fill="#777700"/>
<rect x="515.3" y="2811.2" width="125.1" height="34.6" fill="#777700"/>
<rect x="646.3" y="2811.2" width="125.1" height="34.6" fill="#6a6a00"/>
<rect x="777.2" y="2811.2" width="125.1" height="34.6" fill="#848400"/>
<rect x="908.2" y="2811.2" width="125.1" height="34.6" fill="#c7c700"/>
<rect x="1039.1" y="2811.2" width="125.1" height="34.6" fill="#6a6a00"/>
<rect x="1170.1" y="2811.2" width="125.1" height="34.6" fill="#919100"/>
<rect x="1301.0" y="2811.2" width="125.1" height="34.6" fill="#919100"/>
<rect x="515.3" y="2850.8" width="125.1" height="34.6" fill="#9f9f00"/>
<rect x="646.3" y="2850.8" width="125.1" height="34.6" fill="#9f9f00"/>
<rect x="777.2" y="2850.8" width="125.1" height="34.6" fill="#6a6a00"/>
<rect x="908.2" y="2850.8" width="125.1" height="34.6" fill="#baba00"/>
<rect x="1039.1" y="2850.8" width="125.1" height="34.6" fill="#777700"/>
<rect x="1170.1" y="2850.8" width="125.1" height="34.6" fill="#6a6a00"/>
<rect x="1301.0" y="2850.8" width="125.1" height="34.6" fill="#919100"/>
<rect x="1432.0" y="2850.8" width="125.1" height="34.6" fill="#626200"/>
<rect x="515.3" y="2890.5" width="125.1" height="34.6" fill="#6a6a00"/>
<rect x="646.3" y="2890.5" width="125.1" height="34.6" fill="#777700"/>
<rect x="777.2" y="2890.5" width="125.1" height="34.6" fill="#848400"/>
<rect x="908.2" y="2890.5" width="125.1" height="34.6" fill="#848400"/>
<rect x="1039.1" y="2890.5" width="125.1" height="34.6" fill="#919100"/>
<rect x="1170.1" y="2890.5" width="125.1" height="34.6" fill="#848400"/>
<rect x="1301.0" y="2890.5" width="125.1" height="34.6" fill="#777700"/>
<rect x="1432.0" y="2890.5" width="125.1" height="34.6" fill="#444400"/>
<rect x="515.3" y="2930.1" width="125.1" height="34.6" fill="#919100"/>
<rect x="646.3" y="2930.1" width="125.1" height="34.6" fill="#777700"/>
<rect x="777.2" y="2930.1" width="125.1" height="34.6" fill="#848400"/>
<rect x="908.2" y="2930.1" width="125.1" height="34.6" fill="#6a6a00"/>
<rect x="1039.1" y="2930.1" width="125.1" height="34.6" fill="#848400"/>
<rect x="1170.1" y="2930.1" width="125.1" height="34.6" fill="#777700"/>
<rect x="1301.0" y="2930.1" width="125.1" height="34.6" fill="#9f9f00"/>
<rect x="1432.0" y="2930.1" width="125.1" height="34.6" fill="#919100"/>
<rect x="515.3" y="2969.7" width="125.1" height="34.6" fill="#5d5d00"/>
<rect x="646.3" y="2969.7" width="125.1" height="34.6" fill="#777700"/>
<rect x="777.2" y="2969.7" width="125.1" height="34.6" fill="#848400"/>
<rect x="908.2" y="2969.7" width="125.1" height="34.6" fill="#9f9f00"/>
<rect x="1039.1" y="2969.7" width="125.1" height="34.6" fill="#6a6a00"/>
<rect x="1170.1" y="2969.7" width="125.1" height="34.6" fill="#5d5d00"/>
<rect x="1301.0" y="2969.7" width="125.1" height="34.6" fill="#848400"/>
<rect x="1432.0" y="2969.7" width="125.1" height="34.6" fill="#5d5d00"/>
<rect x="515.3" y="3009.4" width="125.1" height="34.6" fill="#626200"/>
<rect x="646.3" y="3009.4" width="125.1" height="34.6" fill="#6a6a00"/>
<rect x="777.2" y="3009.4" width="125.1" height="34.6" fill="#9f9f00"/>
<rect x="908.2" y="3009.4" width="125.1" height="34.6" fill="#848400"/>
<rect x="1039.1" y="3009.4" width="125.1" height="34.6" fill="#5d5d00"/>
<rect x="1170.1" y="3009.4" width="125.1" height="34.6" fill="#676700"/>
<rect x="1301.0" y="3009.4" width="125.1" height="34.6" fill="#777700"/>
<rect x="1432.0" y="3009.4" width="125.1" height="34.6" fill="#5d5d00"/>
<rect x="515.3" y="3049.0" width="125.1" height="34.6" fill="#919100"/>
<rect x="646.3" y="3049.0" width="125.1" height="34.6" fill="#919100"/>
<rect x="777.2" y="3049.0" width="125.1" height="34.6" fill="#848400"/>
<rect x="908.2" y="3049.0" width="125.1" height="34.6" fill="#373700"/>
<rect x="1039.1" y="3049.0" width="125.1" height="34.6" fill="#9f9f00"/>
<rect x="1170.1" y="3049.0" width="125.1" height="34.6" fill="#919100"/>
<rect x="1301.0" y="3049.0" width="125.1" height="34.6" fill="#777700"/>
<rect x="1432.0" y="3049.0" width="125.1" height="34.6" fill="#202000"/>
<rect x="515.3" y="3088.7" width="125.1" height="34.6" fill="#919100"/>
<rect x="646.3" y="3088.7" width="125.1" height="34.6" fill="#919100"/>
<rect x="777.2" y="3088.7" width="125.1" height="34.6" fill="#848400"/>
<rect x="908.2" y="3088.7" width="125.1" height="34.6" fill="#444400"/>
<rect x="1039.1" y="3088.7" width="125.1" height="34.6" fill="#9f9f00"/>
<rect x="1170.1" y="3088.7" width="125.1" height="34.6" fill="#919100"/>
<rect x="1301.0" y="3088.7" width="125.1" height="34.6" fill="#848400"/>
<rect x="1432.0" y="3088.7" width="125.1" height="34.6" fill="#444400"/>
<rect x="515.3" y="3128.3" width="125.1" height="34.6" fill="#919100"/>
<rect x="646.3" y="3128.3" width="125.1" height="34.6" fill="#848400"/>
<rect x="777.2" y="3128.3" width="125.1" height="34.6" fill="#6a6a00"/>
<rect x="908.2" y="3128.3" width="125.1" height="34.6" fill="#202000"/>
<rect x="1039.1" y="3128.3" width="125.1" height="34.6" fill="#9f9f00"/>
<rect x="1170.1" y="3128.3" width="125.1" height="34.6" fill="#777700"/>
<rect x="1301.0" y="3128.3" width="125.1" height="34.6" fill="#5d5d00"/>
<rect x="1432.0" y="3128.3" width="125.1" height="34.6" fill="#505000"/>
<rect x="515.3" y="3167.9" width="125.1" height="34.6" fill="#5d5d00"/>
<rect x="646.3" y="3167.9" width="125.1" height="34.6" fill="#848400"/>
<rect x="777.2" y="3167.9" width="125.1" height="34.6" fill="#9f9f00"/>
<rect x="908.2" y="3167.9" width="125.1" height="34.6" fill="#444400"/>
<rect x="1039.1" y="3167.9" width="125.1" height="34.6" fill="#777700"/>
<rect x="1170.1" y="3167.9" width="125.1" height="34.6" fill="#777700"/>
<rect x="1301.0" y="3167.9" width="125.1" height="34.6" fill="#919100"/>
<rect x="1432.0" y="3167.9" width="125.1" height="34.6" fill="#141400"/>
<rect x="515.3" y="3207.6" width="125.1" height="34.6" fill="#777700"/>
<rect x="646.3" y="3207.6" width="125.1" height="34.6" fill="#acac00"/>
<rect x="777.2" y="3207.6" width="125.1" height="34.6" fill="#acac00"/>
<rect x="908.2" y="3207.6" width="125.1" height="34.6" fill="#5d5d00"/>
<rect x="1039.1" y="3207.6" width="125.1" height="34.6" fill="#777700"/>
<rect x="1170.1" y="3207.6" width="125.1" height="34.6" fill="#777700"/>
<rect x="1301.0" y="3207.6" width="125.1" height="34.6" fill="#acac00"/>
<rect x="1432.0" y="3207.6" width="125.1" height="34.6" fill="#090900"/>
<rect x="515.3" y="3247.2" width="125.1" height="34.6" fill="#9f9f00"/>
<rect x="646.3" y="3247.2" width="125.1" height="34.6" fill="#6a6a00"/>
<rect x="777.2" y="3247.2" width="125.1" height="34.6" fill="#9f9f00"/>
<rect x="908.2" y="3247.2" width="125.1" height="34.6" fill="#6a6a00"/>
<rect x="1039.1" y="3247.2" width="125.1" height="34.6" fill="#444400"/>
<rect x="1170.1" y="3247.2" width="125.1" height="34.6" fill="#919100"/>
<rect x="1301.0" y="3247.2" width="125.1" height="34.6" fill="#acac00"/>
<rect x="1432.0" y="3247.2" width="125.1" height="34.6" fill="#373700"/>
<rect x="515.3" y="3286.9" width="125.1" height="34.6" fill="#000010"/>
<rect x="646.3" y="3286.9" width="125.1" height="34.6" fill="#00002f"/>
<rect x="777.2" y="3286.9" width="125.1" height="34.6" fill="#090900"/>
<rect x="908.2" y="3286.9" width="125.1" height="34.6" fill="#000046"/>
<rect x="1039.1" y="3286.9" width="125.1" height="34.6" fill="#00005e"/>
<rect x="1170.1" y="3286.9" width="125.1" height="34.6" fill="#6a6a00"/>
<rect x="1301.0" y="3286.9" width="125.1" height="34.6" fill="#000023"/>
<rect x="1432.0" y="3286.9" width="125.1" height="34.6" fill="#00008d"/>
<rect x="646.3" y="3326.5" width="125.1" height="34.6" fill="#373700"/>
<rect x="777.2" y="3326.5" width="125.1" height="34.6" fill="#444400"/>
<rect x="908.2" y="3326.5" width="125.1" height="34.6" fill="#000013"/>
<rect x="1039.1" y="3326.5" width="125.1" height="34.6" fill="#000007"/>
<rect x="1170.1" y="3326.5" width="125.1" height="34.6" fill="#6a6a00"/>
<rect x="1301.0" y="3326.5" width="125.1" height="34.6" fill="#141400"/>
<rect x="1432.0" y="3326.5" width="125.1" height="34.6" fill="#00006a"/>
<rect x="515.3" y="3366.1" width="125.1" height="34.6" fill="#070700"/>
<rect x="777.2" y="3366.1" width="125.1" height="34.6" fill="#141400"/>
<rect x="908.2" y="3366.1" width="125.1" height="34.6" fill="#101000"/>
<rect x="1039.1" y="3366.1" width="125.1" height="34.6" fill="#000007"/>
<rect x="1170.1" y="3366.1" width="125.1" height="34.6" fill="#acac00"/>
<rect x="1301.0" y="3366.1" width="125.1" height="34.6" fill="#2b2b00"/>
<rect x="1432.0" y="3366.1" width="125.1" height="34.6" fill="#000075"/>
<rect x="646.3" y="3405.8" width="125.1" height="34.6" fill="#000005"/>
<rect x="777.2" y="3405.8" width="125.1" height="34.6" fill="#202000"/>
<rect x="908.2" y="3405.8" width="125.1" height="34.6" fill="#070700"/>
<rect x="1170.1" y="3405.8" width="125.1" height="34.6" fill="#777700"/>
<rect x="1301.0" y="3405.8" width="125.1" height="34.6" fill="#00000e"/>
<rect x="1432.0" y="3405.8" width="125.1" height="34.6" fill="#0000a4"/>
<rect x="646.3" y="3445.4" width="125.1" height="34.6" fill="#00001c"/>
<rect x="777.2" y="3445.4" width="125.1" height="34.6" fill="#101000"/>
<rect x="1170.1" y="3445.4" width="125.1" height="34.6" fill="#777700"/>
<rect x="1432.0" y="3445.4" width="125.1" height="34.6" fill="#0000b0"/>
<rect x="515.3" y="3485.1" width="125.1" height="34.6" fill="#070700"/>
<rect x="646.3" y="3485.1" width="125.1" height="34.6" fill="#313100"/>
<rect x="777.2" y="3485.1" width="125.1" height="34.6" fill="#00000c"/>
<rect x="908.2" y="3485.1" width="125.1" height="34.6" fill="#00002f"/>
<rect x="1039.1" y="3485.1" width="125.1" height="34.6" fill="#272700"/>
<rect x="1301.0" y="3485.1" width="125.1" height="34.6" fill="#313100"/>
<rect x="1432.0" y="3485.1" width="125.1" height="34.6" fill="#000052"/>
<rect x="515.3" y="3524.7" width="125.1" height="34.6" fill="#080800"/>
<rect x="646.3" y="3524.7" width="125.1" height="34.6" fill="#1c1c00"/>
<rect x="777.2" y="3524.7" width="125.1" height="34.6" fill="#00001c"/>
<rect x="908.2" y="3524.7" width="125.1" height="34.6" fill="#3c3c00"/>
<rect x="1039.1" y="3524.7" width="125.1" height="34.6" fill="#313100"/>
<rect x="1170.1" y="3524.7" width="125.1" height="34.6" fill="#121200"/>
<rect x="1301.0" y="3524.7" width="125.1" height="34.6" fill="#030300"/>
<rect x="1432.0" y="3524.7" width="125.1" height="34.6" fill="#0e0e00"/>
<rect x="646.3" y="3564.3" width="125.1" height="34.6" fill="#080800"/>
<rect x="777.2" y="3564.3" width="125.1" height="34.6" fill="#161600"/>
<rect x="908.2" y="3564.3" width="125.1" height="34.6" fill="#3c3c00"/>
<rect x="1039.1" y="3564.3" width="125.1" height="34.6" fill="#121200"/>
<rect x="1170.1" y="3564.3" width="125.1" height="34.6" fill="#050500"/>
<rect x="1301.0" y="3564.3" width="125.1" height="34.6" fill="#3c3c00"/>
<rect x="515.3" y="3604.0" width="125.1" height="34.6" fill="#000005"/>
<rect x="777.2" y="3604.0" width="125.1" height="34.6" fill="#161600"/>
<rect x="908.2" y="3604.0" width="125.1" height="34.6" fill="#484800"/>
<rect x="1039.1" y="3604.0" width="125.1" height="34.6" fill="#080800"/>
<rect x="1170.1" y="3604.0" width="125.1" height="34.6" fill="#030300"/>
<rect x="1301.0" y="3604.0" width="125.1" height="34.6" fill="#030300"/>
<rect x="515.3" y="3643.6" width="125.1" height="34.6" fill="#161600"/>
<rect x="646.3" y="3643.6" width="125.1" height="34.6" fill="#272700"/>
<rect x="1039.1" y="3643.6" width="125.1" height="34.6" fill="#5e5e00"/>
<rect x="1170.1" y="3643.6" width="125.1" height="34.6" fill="#000005"/>
<rect x="1301.0" y="3643.6" width="125.1" height="34.6" fill="#000002"/>
<rect x="515.3" y="3683.3" width="125.1" height="34.6" fill="#535300"/>
<rect x="646.3" y="3683.3" width="125.1" height="34.6" fill="#1c1c00"/>
<rect x="908.2" y="3683.3" width="125.1" height="34.6" fill="#000017"/>
<rect x="1039.1" y="3683.3" width="125.1" height="34.6" fill="#3c3c00"/>
<rect x="1170.1" y="3683.3" width="125.1" height="34.6" fill="#080800"/>
<rect x="515.3" y="3722.9" width="125.1" height="34.6" fill="#000005"/>
<rect x="646.3" y="3722.9" width="125.1" height="34.6" fill="#3c3c00"/>
<rect x="777.2" y="3722.9" width="125.1" height="34.6" fill="#5c5c00"/>
<rect x="1039.1" y="3722.9" width="125.1" height="34.6" fill="#000002"/>
<rect x="1170.1" y="3722.9" width="125.1" height="34.6" fill="#414100"/>
<rect x="1432.0" y="3722.9" width="125.1" height="34.6" fill="#121200"/>
<rect x="515.3" y="3762.5" width="125.1" height="34.6" fill="#000005"/>
<rect x="646.3" y="3762.5" width="125.1" height="34.6" fill="#4e4e00"/>
<rect x="777.2" y="3762.5" width="125.1" height="34.6" fill="#313100"/>
<rect x="908.2" y="3762.5" width="125.1" height="34.6" fill="#616100"/>
<rect x="1039.1" y="3762.5" width="125.1" height="34.6" fill="#000007"/>
<rect x="1170.1" y="3762.5" width="125.1" height="34.6" fill="#272700"/>
<rect x="1301.0" y="3762.5" width="125.1" height="34.6" fill="#0a0a00"/>
<rect x="1432.0" y="3762.5" width="125.1" height="34.6" fill="#000017"/>
<rect x="515.3" y="3802.2" width="125.1" height="34.6" fill="#000005"/>
<rect x="646.3" y="3802.2" width="125.1" height="34.6" fill="#3c3c00"/>
<rect x="777.2" y="3802.2" width="125.1" height="34.6" fill="#5c5c00"/>
<rect x="908.2" y="3802.2" width="125.1" height="34.6" fill="#272700"/>
<rect x="1170.1" y="3802.2" width="125.1" height="34.6" fill="#1c1c00"/>
<rect x="1301.0" y="3802.2" width="125.1" height="34.6" fill="#5c5c00"/>
<rect x="515.3" y="3841.8" width="125.1" height="34.6" fill="#000013"/>
<rect x="908.2" y="3841.8" width="125.1" height="34.6" fill="#656500"/>
<rect x="1039.1" y="3841.8" width="125.1" height="34.6" fill="#000023"/>
<rect x="1170.1" y="3841.8" width="125.1" height="34.6" fill="#313100"/>
<rect x="1301.0" y="3841.8" width="125.1" height="34.6" fill="#0c0c00"/>
<rect x="1432.0" y="3841.8" width="125.1" height="34.6" fill="#00003b"/>
<rect x="515.3" y="3881.5" width="125.1" height="34.6" fill="#00002f"/>
<rect x="777.2" y="3881.5" width="125.1" height="34.6" fill="#080800"/>
<rect x="1039.1" y="3881.5" width="125.1" height="34.6" fill="#00000c"/>
<rect x="1170.1" y="3881.5" width="125.1" height="34.6" fill="#313100"/>
<rect x="1301.0" y="3881.5" width="125.1" height="34.6" fill="#000007"/>
<rect x="1432.0" y="3881.5" width="125.1" height="34.6" fill="#000046"/>
<rect x="515.3" y="3921.1" width="125.1" height="34.6" fill="#000046"/>
<rect x="777.2" y="3921.1" width="125.1" height="34.6" fill="#080800"/>
<rect x="908.2" y="3921.1" width="125.1" height="34.6" fill="#070700"/>
<rect x="1039.1" y="3921.1" width="125.1" height="34.6" fill="#00003b"/>
<rect x="1170.1" y="3921.1" width="125.1" height="34.6" fill="#0c0c00"/>
<rect x="1301.0" y="3921.1" width="125.1" height="34.6" fill="#1c1c00"/>
<rect x="515.3" y="3960.7" width="125.1" height="34.6" fill="#373700"/>
<rect x="646.3" y="3960.7" width="125.1" height="34.6" fill="#777700"/>
<rect x="777.2" y="3960.7" width="125.1" height="34.6" fill="#848400"/>
<rect x="908.2" y="3960.7" width="125.1" height="34.6" fill="#00006a"/>
<rect x="1039.1" y="3960.7" width="125.1" height="34.6" fill="#373700"/>
<rect x="1170.1" y="3960.7" width="125.1" height="34.6" fill="#848400"/>
<rect x="1301.0" y="3960.7" width="125.1" height="34.6" fill="#919100"/>
<rect x="1432.0" y="3960.7" width="125.1" height="34.6" fill="#00001c"/>
<rect x="515.3" y="4000.4" width="125.1" height="34.6" fill="#919100"/>
<rect x="646.3" y="4000.4" width="125.1" height="34.6" fill="#373700"/>
<rect x="777.2" y="4000.4" width="125.1" height="34.6" fill="#373700"/>
<rect x="908.2" y="4000.4" width="125.1" height="34.6" fill="#030300"/>
<rect x="1039.1" y="4000.4" width="125.1" height="34.6" fill="#919100"/>
<rect x="1170.1" y="4000.4" width="125.1" height="34.6" fill="#444400"/>
<rect x="1301.0" y="4000.4" width="125.1" height="34.6" fill="#090900"/>
<rect x="515.3" y="4040.0" width="125.1" height="34.6" fill="#777700"/>
<rect x="646.3" y="4040.0" width="125.1" height="34.6" fill="#6a6a00"/>
<rect x="777.2" y="4040.0" width="125.1" height="34.6" fill="#373700"/>
<rect x="908.2" y="4040.0" width="125.1" height="34.6" fill="#070700"/>
<rect x="1039.1" y="4040.0" width="125.1" height="34.6" fill="#505000"/>
<rect x="1170.1" y="4040.0" width="125.1" height="34.6" fill="#373700"/>
<rect x="1301.0" y="4040.0" width="125.1" height="34.6" fill="#2b2b00"/>
<rect x="1432.0" y="4040.0" width="125.1" height="34.6" fill="#000023"/>
<rect x="515.3" y="4079.7" width="125.1" height="34.6" fill="#5d5d00"/>
<rect x="646.3" y="4079.7" width="125.1" height="34.6" fill="#505000"/>
<rect x="777.2" y="4079.7" width="125.1" height="34.6" fill="#2b2b00"/>
<rect x="1039.1" y="4079.7" width="125.1" height="34.6" fill="#505000"/>
<rect x="1170.1" y="4079.7" width="125.1" height="34.6" fill="#505000"/>
<rect x="1301.0" y="4079.7" width="125.1" height="34.6" fill="#373700"/>
<rect x="1432.0" y="4079.7" width="125.1" height="34.6" fill="#090900"/>
<rect x="515.3" y="4119.3" width="125.1" height="34.6" fill="#9f9f00"/>
<rect x="646.3" y="4119.3" width="125.1" height="34.6" fill="#5d5d00"/>
<rect x="777.2" y="4119.3" width="125.1" height="34.6" fill="#373700"/>
<rect x="908.2" y="4119.3" width="125.1" height="34.6" fill="#00002f"/>
<rect x="1039.1" y="4119.3" width="125.1" height="34.6" fill="#9f9f00"/>
<rect x="1170.1" y="4119.3" width="125.1" height="34.6" fill="#919100"/>
<rect x="1301.0" y="4119.3" width="125.1" height="34.6" fill="#00000c"/>
<rect x="1432.0" y="4119.3" width="125.1" height="34.6" fill="#000007"/>
<rect x="515.3" y="4158.9" width="125.1" height="34.6" fill="#9f9f00"/>
<rect x="646.3" y="4158.9" width="125.1" height="34.6" fill="#848400"/>
<rect x="777.2" y="4158.9" width="125.1" height="34.6" fill="#373700"/>
<rect x="908.2" y="4158.9" width="125.1" height="34.6" fill="#000013"/>
<rect x="1039.1" y="4158.9" width="125.1" height="34.6" fill="#acac00"/>
<rect x="1170.1" y="4158.9" width="125.1" height="34.6" fill="#9f9f00"/>
<rect x="1301.0" y="4158.9" width="125.1" height="34.6" fill="#505000"/>
<rect x="1432.0" y="4158.9" width="125.1" height="34.6" fill="#202000"/>
<rect x="515.3" y="4198.6" width="125.1" height="34.6" fill="#baba00"/>
<rect x="646.3" y="4198.6" width="125.1" height="34.6" fill="#6a6a00"/>
<rect x="777.2" y="4198.6" width="125.1" height="34.6" fill="#2b2b00"/>
<rect x="908.2" y="4198.6" width="125.1" height="34.6" fill="#000023"/>
<rect x="1039.1" y="4198.6" width="125.1" height="34.6" fill="#baba00"/>
<rect x="1170.1" y="4198.6" width="125.1" height="34.6" fill="#777700"/>
<rect x="1301.0" y="4198.6" width="125.1" height="34.6" fill="#505000"/>
<rect x="1432.0" y="4198.6" width="125.1" height="34.6" fill="#373700"/>
<rect x="515.3" y="4238.2" width="125.1" height="34.6" fill="#777700"/>
<rect x="646.3" y="4238.2" width="125.1" height="34.6" fill="#919100"/>
<rect x="777.2" y="4238.2" width="125.1" height="34.6" fill="#202000"/>
<rect x="908.2" y="4238.2" width="125.1" height="34.6" fill="#000026"/>
<rect x="1039.1" y="4238.2" width="125.1" height="34.6" fill="#848400"/>
<rect x="1170.1" y="4238.2" width="125.1" height="34.6" fill="#848400"/>
<rect x="1301.0" y="4238.2" width="125.1" height="34.6" fill="#5d5d00"/>
<rect x="515.3" y="4277.9" width="125.1" height="34.6" fill="#777700"/>
<rect x="646.3" y="4277.9" width="125.1" height="34.6" fill="#848400"/>
<rect x="777.2" y="4277.9" width="125.1" height="34.6" fill="#444400"/>
<rect x="908.2" y="4277.9" width="125.1" height="34.6" fill="#00002a"/>
<rect x="1039.1" y="4277.9" width="125.1" height="34.6" fill="#777700"/>
<rect x="1170.1" y="4277.9" width="125.1" height="34.6" fill="#848400"/>
<rect x="1301.0" y="4277.9" width="125.1" height="34.6" fill="#444400"/>
<rect x="1432.0" y="4277.9" width="125.1" height="34.6" fill="#00001c"/>
<clipPath id="lc"><rect x="1570" y="340" width="340" height="3976.5"/></clipPath>
<g class="g" clip-path="url(#lc)">
<text transform="translate(1588.5,387.0) scale(0.92,1)">Gh<tspan dy="5.5">_</tspan><tspan dy="-5.5">D07G1197</tspan></text>
<text transform="translate(1588.5,426.6) scale(0.92,1)">Gh<tspan dy="5.5">_</tspan><tspan dy="-5.5">A13G2057</tspan></text>
<text transform="translate(1588.5,466.3) scale(0.92,1)">Gh<tspan dy="5.5">_</tspan><tspan dy="-5.5">D13G2458</tspan></text>
<text transform="translate(1588.5,505.9) scale(0.92,1)">Gh<tspan dy="5.5">_</tspan><tspan dy="-5.5">D10G1845</tspan></text>
<text transform="translate(1588.5,545.6) scale(0.92,1)">Gh<tspan dy="5.5">_</tspan><tspan dy="-5.5">A10G1590</tspan></text>
<text transform="translate(1588.5,585.2) scale(0.92,1)">Gh<tspan dy="5.5">_</tspan><tspan dy="-5.5">D12G1798</tspan></text>
<text transform="translate(1588.5,624.8) scale(0.92,1)">Gh<tspan dy="5.5">_</tspan><tspan dy="-5.5">D10G1401</tspan></text>
<text transform="translate(1588.5,664.5) scale(0.92,1)">Gh<tspan dy="5.5">_</tspan><tspan dy="-5.5">D11G1581</tspan></text>
<text transform="translate(1588.5,704.1) scale(0.92,1)">Gh<tspan dy="5.5">_</tspan><tspan dy="-5.5">A11G1429</tspan></text>
<text transform="translate(1588.5,743.8) scale(0.92,1)">Gh<tspan dy="5.5">_</tspan><tspan dy="-5.5">D08G1892</tspan></text>
<text transform="translate(1588.5,783.4) scale(0.92,1)">Gh<tspan dy="5.5">_</tspan><tspan dy="-5.5">D01G2343</tspan></text>
<text transform="translate(1588.5,823.0) scale(0.92,1)">Gh<tspan dy="5.5">_</tspan><tspan dy="-5.5">A12G2016</tspan></text>
<text transform="translate(1588.5,862.7) scale(0.92,1)">Gh<tspan dy="5.5">_</tspan><tspan dy="-5.5">D12G2194</tspan></text>
<text transform="translate(1588.5,902.3) scale(0.92,1)">Gh<tspan dy="5.5">_</tspan><tspan dy="-5.5">D07G0559</tspan></text>
<text transform="translate(1588.5,942.0) scale(0.92,1)">Gh<tspan dy="5.5">_</tspan><tspan dy="-5.5">D11G1389</tspan></text>
<text transform="translate(1588.5,981.6) scale(0.92,1)">Gh<tspan dy="5.5">_</tspan><tspan dy="-5.5">A11G1242</tspan></text>
<text transform="translate(1588.5,1021.2) scale(0.92,1)">Gh<tspan dy="5.5">_</tspan><tspan dy="-5.5">D05G2506</tspan></text>
<text transform="translate(1588.5,1060.9) scale(0.92,1)">Gh<tspan dy="5.5">_</tspan><tspan dy="-5.5">A07G0841</tspan></text>
<text transform="translate(1588.5,1100.5) scale(0.92,1)">Gh<tspan dy="5.5">_</tspan><tspan dy="-5.5">Sca030829G01</tspan></text>
<text transform="translate(1588.5,1140.2) scale(0.92,1)">Gh<tspan dy="5.5">_</tspan><tspan dy="-5.5">D01G0331</tspan></text>
<text transform="translate(1588.5,1179.8) scale(0.92,1)">Gh<tspan dy="5.5">_</tspan><tspan dy="-5.5">D05G2983</tspan></text>
<text transform="translate(1588.5,1219.4) scale(0.92,1)">Gh<tspan dy="5.5">_</tspan><tspan dy="-5.5">D05G1894</tspan></text>
<text transform="translate(1588.5,1259.1) scale(0.92,1)">Gh<tspan dy="5.5">_</tspan><tspan dy="-5.5">A03G2119</tspan></text>
<text transform="translate(1588.5,1298.7) scale(0.92,1)">Gh<tspan dy="5.5">_</tspan><tspan dy="-5.5">A12G2559</tspan></text>
<text transform="translate(1588.5,1338.4) scale(0.92,1)">Gh<tspan dy="5.5">_</tspan><tspan dy="-5.5">D03G0537</tspan></text>
<text transform="translate(1588.5,1378.0) scale(0.92,1)">Gh<tspan dy="5.5">_</tspan><tspan dy="-5.5">D13G1644</tspan></text>
<text transform="translate(1588.5,1417.6) scale(0.92,1)">Gh<tspan dy="5.5">_</tspan><tspan dy="-5.5">D03G0963</tspan></text>
<text transform="translate(1588.5,1457.3) scale(0.92,1)">Gh<tspan dy="5.5">_</tspan><tspan dy="-5.5">D10G2014</tspan></text>
<text transform="translate(1588.5,1496.9) scale(0.92,1)">Gh<tspan dy="5.5">_</tspan><tspan dy="-5.5">A02G0847</tspan></text>
<text transform="translate(1588.5,1536.6) scale(0.92,1)">Gh<tspan dy="5.5">_</tspan><tspan dy="-5.5">Sca010971G01</tspan></text>
<text transform="translate(1588.5,1576.2) scale(0.92,1)">Gh<tspan dy="5.5">_</tspan><tspan dy="-5.5">D11G3263</tspan></text>
<text transform="translate(1588.5,1615.8) scale(0.92,1)">Gh<tspan dy="5.5">_</tspan><tspan dy="-5.5">A12G1291</tspan></text>
<text transform="translate(1588.5,1655.5) scale(0.92,1)">Gh<tspan dy="5.5">_</tspan><tspan dy="-5.5">A02G1117</tspan></text>
<text transform="translate(1588.5,1695.1) scale(0.92,1)">Gh<tspan dy="5.5">_</tspan><tspan dy="-5.5">A13G1336</tspan></text>
<text transform="translate(1588.5,1734.8) scale(0.92,1)">Gh<tspan dy="5.5">_</tspan><tspan dy="-5.5">A13G1123</tspan></text>
<text transform="translate(1588.5,1774.4) scale(0.92,1)">Gh<tspan dy="5.5">_</tspan><tspan dy="-5.5">A12G2399</tspan></text>
<text transform="translate(1588.5,1814.0) scale(0.92,1)">Gh<tspan dy="5.5">_</tspan><tspan dy="-5.5">A12G1342</tspan></text>
<text transform="translate(1588.5,1853.7) scale(0.92,1)">Gh<tspan dy="5.5">_</tspan><tspan dy="-5.5">D07G0776</tspan></text>
<text transform="translate(1588.5,1893.3) scale(0.92,1)">Gh<tspan dy="5.5">_</tspan><tspan dy="-5.5">D13G0888</tspan></text>
<text transform="translate(1588.5,1933.0) scale(0.92,1)">Gh<tspan dy="5.5">_</tspan><tspan dy="-5.5">A09G0463</tspan></text>
<text transform="translate(1588.5,1972.6) scale(0.92,1)">Gh<tspan dy="5.5">_</tspan><tspan dy="-5.5">D05G0951</tspan></text>
<text transform="translate(1588.5,2012.2) scale(0.92,1)">Gh<tspan dy="5.5">_</tspan><tspan dy="-5.5">A10G2124</tspan></text>
<text transform="translate(1588.5,2051.9) scale(0.92,1)">Gh<tspan dy="5.5">_</tspan><tspan dy="-5.5">D02G0931</tspan></text>
<text transform="translate(1588.5,2091.5) scale(0.92,1)">Gh<tspan dy="5.5">_</tspan><tspan dy="-5.5">A05G0525</tspan></text>
<text transform="translate(1588.5,2131.2) scale(0.92,1)">Gh<tspan dy="5.5">_</tspan><tspan dy="-5.5">A12G1863</tspan></text>
<text transform="translate(1588.5,2170.8) scale(0.92,1)">Gh<tspan dy="5.5">_</tspan><tspan dy="-5.5">D01G2311</tspan></text>
<text transform="translate(1588.5,2210.4) scale(0.92,1)">Gh<tspan dy="5.5">_</tspan><tspan dy="-5.5">A07G0714</tspan></text>
<text transform="translate(1588.5,2250.1) scale(0.92,1)">Gh<tspan dy="5.5">_</tspan><tspan dy="-5.5">D09G0470</tspan></text>
<text transform="translate(1588.5,2289.7) scale(0.92,1)">Gh<tspan dy="5.5">_</tspan><tspan dy="-5.5">D06G1792</tspan></text>
<text transform="translate(1588.5,2329.4) scale(0.92,1)">Gh<tspan dy="5.5">_</tspan><tspan dy="-5.5">D07G0910</tspan></text>
<text transform="translate(1588.5,2369.0) scale(0.92,1)">Gh<tspan dy="5.5">_</tspan><tspan dy="-5.5">A02G1611</tspan></text>
<text transform="translate(1588.5,2408.6) scale(0.92,1)">Gh<tspan dy="5.5">_</tspan><tspan dy="-5.5">D01G0713</tspan></text>
<text transform="translate(1588.5,2448.3) scale(0.92,1)">Gh<tspan dy="5.5">_</tspan><tspan dy="-5.5">D09G0472</tspan></text>
<text transform="translate(1588.5,2487.9) scale(0.92,1)">Gh<tspan dy="5.5">_</tspan><tspan dy="-5.5">A13G0740</tspan></text>
<text transform="translate(1588.5,2527.6) scale(0.92,1)">Gh<tspan dy="5.5">_</tspan><tspan dy="-5.5">D11G3054</tspan></text>
<text transform="translate(1588.5,2567.2) scale(0.92,1)">Gh<tspan dy="5.5">_</tspan><tspan dy="-5.5">A10G1744</tspan></text>
<text transform="translate(1588.5,2606.8) scale(0.92,1)">Gh<tspan dy="5.5">_</tspan><tspan dy="-5.5">D07G1869</tspan></text>
<text transform="translate(1588.5,2646.5) scale(0.92,1)">Gh<tspan dy="5.5">_</tspan><tspan dy="-5.5">A07G2164</tspan></text>
<text transform="translate(1588.5,2686.1) scale(0.92,1)">Gh<tspan dy="5.5">_</tspan><tspan dy="-5.5">A11G0751</tspan></text>
<text transform="translate(1588.5,2725.8) scale(0.92,1)">Gh<tspan dy="5.5">_</tspan><tspan dy="-5.5">D01G2314</tspan></text>
<text transform="translate(1588.5,2765.4) scale(0.92,1)">Gh<tspan dy="5.5">_</tspan><tspan dy="-5.5">A12G2650</tspan></text>
<text transform="translate(1588.5,2805.0) scale(0.92,1)">Gh<tspan dy="5.5">_</tspan><tspan dy="-5.5">D10G2490</tspan></text>
<text transform="translate(1588.5,2844.7) scale(0.92,1)">Gh<tspan dy="5.5">_</tspan><tspan dy="-5.5">A09G2498</tspan></text>
<text transform="translate(1588.5,2884.3) scale(0.92,1)">Gh<tspan dy="5.5">_</tspan><tspan dy="-5.5">D02G0289</tspan></text>
<text transform="translate(1588.5,2924.0) scale(0.92,1)">Gh<tspan dy="5.5">_</tspan><tspan dy="-5.5">A10G1726</tspan></text>
<text transform="translate(1588.5,2963.6) scale(0.92,1)">Gh<tspan dy="5.5">_</tspan><tspan dy="-5.5">D03G0111</tspan></text>
<text transform="translate(1588.5,3003.2) scale(0.92,1)">Gh<tspan dy="5.5">_</tspan><tspan dy="-5.5">D06G1909</tspan></text>
<text transform="translate(1588.5,3042.9) scale(0.92,1)">Gh<tspan dy="5.5">_</tspan><tspan dy="-5.5">A06G1538</tspan></text>
<text transform="translate(1588.5,3082.5) scale(0.92,1)">Gh<tspan dy="5.5">_</tspan><tspan dy="-5.5">A02G0225</tspan></text>
<text transform="translate(1588.5,3122.2) scale(0.92,1)">Gh<tspan dy="5.5">_</tspan><tspan dy="-5.5">D12G0871</tspan></text>
<text transform="translate(1588.5,3161.8) scale(0.92,1)">Gh<tspan dy="5.5">_</tspan><tspan dy="-5.5">A10G2109</tspan></text>
<text transform="translate(1588.5,3201.4) scale(0.92,1)">Gh<tspan dy="5.5">_</tspan><tspan dy="-5.5">A07G1880</tspan></text>
<text transform="translate(1588.5,3241.1) scale(0.92,1)">Gh<tspan dy="5.5">_</tspan><tspan dy="-5.5">D08G1427</tspan></text>
<text transform="translate(1588.5,3280.7) scale(0.92,1)">Gh<tspan dy="5.5">_</tspan><tspan dy="-5.5">A09G2349</tspan></text>
<text transform="translate(1588.5,3320.4) scale(0.92,1)">Gh<tspan dy="5.5">_</tspan><tspan dy="-5.5">D13G1407</tspan></text>
<text transform="translate(1588.5,3360.0) scale(0.92,1)">Gh<tspan dy="5.5">_</tspan><tspan dy="-5.5">D13G2116</tspan></text>
<text transform="translate(1588.5,3399.6) scale(0.92,1)">Gh<tspan dy="5.5">_</tspan><tspan dy="-5.5">A13G1133</tspan></text>
<text transform="translate(1588.5,3439.3) scale(0.92,1)">Gh<tspan dy="5.5">_</tspan><tspan dy="-5.5">A03G2006</tspan></text>
<text transform="translate(1588.5,3478.9) scale(0.92,1)">Gh<tspan dy="5.5">_</tspan><tspan dy="-5.5">D03G1513</tspan></text>
<text transform="translate(1588.5,3518.6) scale(0.92,1)">Gh<tspan dy="5.5">_</tspan><tspan dy="-5.5">D12G2348</tspan></text>
<text transform="translate(1588.5,3558.2) scale(0.92,1)">Gh<tspan dy="5.5">_</tspan><tspan dy="-5.5">D12G1468</tspan></text>
<text transform="translate(1588.5,3597.8) scale(0.92,1)">Gh<tspan dy="5.5">_</tspan><tspan dy="-5.5">D07G2094</tspan></text>
<text transform="translate(1588.5,3637.5) scale(0.92,1)">Gh<tspan dy="5.5">_</tspan><tspan dy="-5.5">D13G0938</tspan></text>
<text transform="translate(1588.5,3677.1) scale(0.92,1)">Gh<tspan dy="5.5">_</tspan><tspan dy="-5.5">A05G3508</tspan></text>
<text transform="translate(1588.5,3716.8) scale(0.92,1)">Gh<tspan dy="5.5">_</tspan><tspan dy="-5.5">D09G0279</tspan></text>
<text transform="translate(1588.5,3756.4) scale(0.92,1)">Gh<tspan dy="5.5">_</tspan><tspan dy="-5.5">A03G0666</tspan></text>
<text transform="translate(1588.5,3796.0) scale(0.92,1)">Gh<tspan dy="5.5">_</tspan><tspan dy="-5.5">D05G0646</tspan></text>
<text transform="translate(1588.5,3835.7) scale(0.92,1)">Gh<tspan dy="5.5">_</tspan><tspan dy="-5.5">A08G1144</tspan></text>
<text transform="translate(1588.5,3875.3) scale(0.92,1)">Gh<tspan dy="5.5">_</tspan><tspan dy="-5.5">A05G1705</tspan></text>
<text transform="translate(1588.5,3915.0) scale(0.92,1)">Gh<tspan dy="5.5">_</tspan><tspan dy="-5.5">D02G2387</tspan></text>
<text transform="translate(1588.5,3954.6) scale(0.92,1)">Gh<tspan dy="5.5">_</tspan><tspan dy="-5.5">A11G2696</tspan></text>
<text transform="translate(1588.5,3994.2) scale(0.92,1)">Gh<tspan dy="5.5">_</tspan><tspan dy="-5.5">D12G2525</tspan></text>
<text transform="translate(1588.5,4033.9) scale(0.92,1)">Gh<tspan dy="5.5">_</tspan><tspan dy="-5.5">A11G2878</tspan></text>
<text transform="translate(1588.5,4073.5) scale(0.92,1)">Gh<tspan dy="5.5">_</tspan><tspan dy="-5.5">D13G0628</tspan></text>
<text transform="translate(1588.5,4113.2) scale(0.92,1)">Gh<tspan dy="5.5">_</tspan><tspan dy="-5.5">D13G0230</tspan></text>
<text transform="translate(1588.5,4152.8) scale(0.92,1)">Gh<tspan dy="5.5">_</tspan><tspan dy="-5.5">D06G1613</tspan></text>
<text transform="translate(1588.5,4192.4) scale(0.92,1)">Gh<tspan dy="5.5">_</tspan><tspan dy="-5.5">A13G0215</tspan></text>
<text transform="translate(1588.5,4232.1) scale(0.92,1)">Gh<tspan dy="5.5">_</tspan><tspan dy="-5.5">D12G2271</tspan></text>
<text transform="translate(1588.5,4271.7) scale(0.92,1)">Gh<tspan dy="5.5">_</tspan><tspan dy="-5.5">A01G0290</tspan></text>
<text transform="translate(1588.5,4311.4) scale(0.92,1)">Gh<tspan dy="5.5">_</tspan><tspan dy="-5.5">D12G1413</tspan></text>
</g>
<g class="d"><path class="h" d="M381.5,410.5H361.8V450.1H381.5M381.5,489.7H368.0V529.4H381.5M368.0,509.6H348.4V569.0H381.5M361.8,430.3H345.0V539.3H348.4M381.5,370.8H324.5V484.8H345.0M381.5,608.7H351.5V648.3H381.5M351.5,628.5H342.0V687.9H381.5M324.5,427.8H296.6V658.2H342.0M381.5,727.6H349.4V767.2H381.5M349.4,747.4H337.0V806.9H381.5M337.0,777.1H318.3V846.5H381.5M296.6,543.0H254.7V811.8H318.3M381.5,925.8H339.0V965.4H381.5M381.5,1005.1H337.0V1044.7H381.5M339.0,945.6H318.3V1024.9H337.0M381.5,886.1H309.0V985.2H318.3M381.5,1084.3H309.0V1124.0H381.5M381.5,1163.6H346.3V1203.3H381.5M381.5,1242.9H361.8V1282.5H381.5M381.5,1322.2H372.7V1361.8H381.5M361.8,1262.7H361.3V1342.0H372.7M346.3,1183.4H340.0V1302.4H361.3M381.5,1401.5H355.6V1441.1H381.5M381.5,1480.7H368.0V1520.4H381.5M381.5,1560.0H365.0V1599.7H381.5M381.5,1639.3H368.0V1678.9H381.5M365.0,1579.8H361.0V1659.1H368.0M368.0,1500.6H355.6V1619.5H361.0M355.6,1421.3H349.4V1560.0H355.6M381.5,1718.6H351.0V1758.2H381.5M349.4,1490.7H340.0V1738.4H351.0M340.0,1242.9H330.7V1614.5H340.0M309.0,1104.2H299.7V1428.7H330.7M309.0,935.7H282.0V1266.4H299.7M254.7,677.4H242.2V1101.1H282.0M381.5,1837.5H339.0V1877.1H381.5M339.0,1857.3H338.5V1916.8H381.5M381.5,2035.7H345.3V2075.3H381.5M381.5,1996.1H324.5V2055.5H345.3M381.5,2115.0H333.9V2154.6H381.5M381.5,2233.9H330.7V2273.5H381.5M381.5,2194.3H321.4V2253.7H330.7M333.9,2134.8H312.0V2224.0H321.4M324.5,2025.8H302.8V2179.4H312.0M381.5,2392.5H352.5V2432.1H381.5M381.5,2352.8H342.2V2412.3H352.5M381.5,2551.0H364.0V2590.7H381.5M381.5,2630.3H364.0V2669.9H381.5M364.0,2570.8H358.7V2650.1H364.0M381.5,2511.4H351.5V2610.5H358.7M381.5,2471.7H346.3V2560.9H351.5M342.2,2382.5H330.7V2516.3H346.3M381.5,2749.2H361.8V2788.9H381.5M381.5,2709.6H355.6V2769.0H361.8M381.5,2987.1H368.0V3026.7H381.5M381.5,2947.4H358.7V3006.9H368.0M381.5,2907.8H357.0V2977.2H358.7M381.5,2868.1H355.6V2942.5H357.0M381.5,3066.3H368.0V3106.0H381.5M368.0,3086.2H361.8V3145.6H381.5M381.5,3185.3H361.8V3224.9H381.5M361.8,3205.1H355.6V3264.5H381.5M361.8,3115.9H347.8V3234.8H355.6M355.6,2905.3H346.3V3175.3H347.8M381.5,2828.5H338.5V3040.3H346.3M355.6,2739.3H333.9V2934.4H338.5M330.7,2449.4H324.5V2836.9H333.9M381.5,2313.2H306.8V2643.2H324.5M302.8,2102.6H293.5V2478.2H306.8M381.5,3423.1H369.6V3462.7H381.5M381.5,3383.5H351.0V3442.9H369.6M381.5,3343.8H349.4V3413.2H351.0M381.5,3304.2H333.9V3378.5H349.4M381.5,3581.7H368.0V3621.3H381.5M381.5,3542.0H355.6V3601.5H368.0M381.5,3660.9H361.8V3700.6H381.5M355.6,3571.8H350.3V3680.8H361.8M381.5,3779.9H361.8V3819.5H381.5M381.5,3740.2H352.5V3799.7H361.8M350.3,3626.3H343.2V3770.0H352.5M381.5,3859.1H351.0V3898.8H381.5M351.0,3879.0H349.5V3938.4H381.5M343.2,3698.1H337.0V3908.7H349.5M381.5,3502.4H330.7V3803.4H337.0M333.9,3341.3H317.4V3652.9H330.7M381.5,4057.3H354.0V4097.0H381.5M381.5,4017.7H351.0V4077.2H354.0M381.5,4176.3H364.6V4215.9H381.5M381.5,4255.5H360.7V4295.2H381.5M364.6,4196.1H348.5V4275.4H360.7M381.5,4136.6H342.0V4235.7H348.5M351.0,4047.4H339.5V4186.2H342.0M381.5,3978.1H321.3V4116.8H339.5M317.4,3497.1H300.0V4047.4H321.3M293.5,2290.4H275.8V3772.3H300.0M381.5,1956.4H263.4V3031.3H275.8M338.5,1887.1H257.0V2493.9H263.4M381.5,1797.9H211.0V2190.5H257.0M242.2,889.2H77.6V1994.2H211.0"/><path d="M381.5,410.5H361.8V450.1H381.5M381.5,489.7H368.0V529.4H381.5M368.0,509.6H348.4V569.0H381.5M361.8,430.3H345.0V539.3H348.4M381.5,370.8H324.5V484.8H345.0M381.5,608.7H351.5V648.3H381.5M351.5,628.5H342.0V687.9H381.5M324.5,427.8H296.6V658.2H342.0M381.5,727.6H349.4V767.2H381.5M349.4,747.4H337.0V806.9H381.5M337.0,777.1H318.3V846.5H381.5M296.6,543.0H254.7V811.8H318.3M381.5,925.8H339.0V965.4H381.5M381.5,1005.1H337.0V1044.7H381.5M339.0,945.6H318.3V1024.9H337.0M381.5,886.1H309.0V985.2H318.3M381.5,1084.3H309.0V1124.0H381.5M381.5,1163.6H346.3V1203.3H381.5M381.5,1242.9H361.8V1282.5H381.5M381.5,1322.2H372.7V1361.8H381.5M361.8,1262.7H361.3V1342.0H372.7M346.3,1183.4H340.0V1302.4H361.3M381.5,1401.5H355.6V1441.1H381.5M381.5,1480.7H368.0V1520.4H381.5M381.5,1560.0H365.0V1599.7H381.5M381.5,1639.3H368.0V1678.9H381.5M365.0,1579.8H361.0V1659.1H368.0M368.0,1500.6H355.6V1619.5H361.0M355.6,1421.3H349.4V1560.0H355.6M381.5,1718.6H351.0V1758.2H381.5M349.4,1490.7H340.0V1738.4H351.0M340.0,1242.9H330.7V1614.5H340.0M309.0,1104.2H299.7V1428.7H330.7M309.0,935.7H282.0V1266.4H299.7M254.7,677.4H242.2V1101.1H282.0M381.5,1837.5H339.0V1877.1H381.5M339.0,1857.3H338.5V1916.8H381.5M381.5,2035.7H345.3V2075.3H381.5M381.5,1996.1H324.5V2055.5H345.3M381.5,2115.0H333.9V2154.6H381.5M381.5,2233.9H330.7V2273.5H381.5M381.5,2194.3H321.4V2253.7H330.7M333.9,2134.8H312.0V2224.0H321.4M324.5,2025.8H302.8V2179.4H312.0M381.5,2392.5H352.5V2432.1H381.5M381.5,2352.8H342.2V2412.3H352.5M381.5,2551.0H364.0V2590.7H381.5M381.5,2630.3H364.0V2669.9H381.5M364.0,2570.8H358.7V2650.1H364.0M381.5,2511.4H351.5V2610.5H358.7M381.5,2471.7H346.3V2560.9H351.5M342.2,2382.5H330.7V2516.3H346.3M381.5,2749.2H361.8V2788.9H381.5M381.5,2709.6H355.6V2769.0H361.8M381.5,2987.1H368.0V3026.7H381.5M381.5,2947.4H358.7V3006.9H368.0M381.5,2907.8H357.0V2977.2H358.7M381.5,2868.1H355.6V2942.5H357.0M381.5,3066.3H368.0V3106.0H381.5M368.0,3086.2H361.8V3145.6H381.5M381.5,3185.3H361.8V3224.9H381.5M361.8,3205.1H355.6V3264.5H381.5M361.8,3115.9H347.8V3234.8H355.6M355.6,2905.3H346.3V3175.3H347.8M381.5,2828.5H338.5V3040.3H346.3M355.6,2739.3H333.9V2934.4H338.5M330.7,2449.4H324.5V2836.9H333.9M381.5,2313.2H306.8V2643.2H324.5M302.8,2102.6H293.5V2478.2H306.8M381.5,3423.1H369.6V3462.7H381.5M381.5,3383.5H351.0V3442.9H369.6M381.5,3343.8H349.4V3413.2H351.0M381.5,3304.2H333.9V3378.5H349.4M381.5,3581.7H368.0V3621.3H381.5M381.5,3542.0H355.6V3601.5H368.0M381.5,3660.9H361.8V3700.6H381.5M355.6,3571.8H350.3V3680.8H361.8M381.5,3779.9H361.8V3819.5H381.5M381.5,3740.2H352.5V3799.7H361.8M350.3,3626.3H343.2V3770.0H352.5M381.5,3859.1H351.0V3898.8H381.5M351.0,3879.0H349.5V3938.4H381.5M343.2,3698.1H337.0V3908.7H349.5M381.5,3502.4H330.7V3803.4H337.0M333.9,3341.3H317.4V3652.9H330.7M381.5,4057.3H354.0V4097.0H381.5M381.5,4017.7H351.0V4077.2H354.0M381.5,4176.3H364.6V4215.9H381.5M381.5,4255.5H360.7V4295.2H381.5M364.6,4196.1H348.5V4275.4H360.7M381.5,4136.6H342.0V4235.7H348.5M351.0,4047.4H339.5V4186.2H342.0M381.5,3978.1H321.3V4116.8H339.5M317.4,3497.1H300.0V4047.4H321.3M293.5,2290.4H275.8V3772.3H300.0M381.5,1956.4H263.4V3031.3H275.8M338.5,1887.1H257.0V2493.9H263.4M381.5,1797.9H211.0V2190.5H257.0M242.2,889.2H77.6V1994.2H211.0"/></g>
<rect x="1899" y="360" width="22" height="1405" fill="#ffff00"/>
<rect x="1899" y="1788" width="22" height="1495" fill="#9b9b00"/>
<rect x="1899" y="3294" width="22" height="1023" fill="#514d00"/>
<rect x="1848" y="1791" width="21" height="498" fill="#000066"/>
<rect x="1848" y="2304" width="21" height="979" fill="#9b9b00"/>
<rect x="1848" y="3297" width="21" height="652" fill="#000066"/>
<g fill="#000" stroke="none" filter="url(#sh)">
<path d="M1997.2,1812.3L2001.0,1812.4L2004.5,1812.5L2007.9,1812.8L2011.1,1813.2L2014.1,1813.7L2017.0,1814.3L2019.7,1815.1L2022.3,1815.9L2024.6,1816.8L2026.8,1817.9L2028.9,1819.0L2030.7,1820.3L2032.4,1821.6L2034.0,1823.1L2035.4,1824.7L2036.6,1826.4L2037.8,1828.2L2038.8,1830.2L2039.6,1832.3L2040.3,1834.7L2040.9,1837.2L2041.3,1839.9L2041.6,1842.9L2041.7,1846.0L2041.7,2014.5L2041.8,2017.7L2042.2,2020.7L2042.7,2023.7L2043.6,2026.6L2044.6,2029.4L2045.9,2032.1L2047.5,2034.6L2049.2,2037.0L2051.2,2039.2L2053.4,2041.2L2055.8,2043.1L2058.4,2044.8L2061.2,2046.3L2064.2,2047.7L2067.3,2049.0L2070.7,2050.0L2074.2,2051.0L2077.9,2051.8L2081.8,2052.5L2085.9,2053.0L2090.1,2053.4L2094.6,2053.8L2099.3,2053.9L2104.2,2054.0L2104.6,2047.0L2099.8,2046.6L2095.3,2046.1L2091.1,2045.4L2087.2,2044.7L2083.5,2043.9L2080.0,2043.0L2076.8,2042.0L2073.8,2040.9L2071.1,2039.7L2068.6,2038.5L2066.4,2037.2L2064.3,2035.8L2062.6,2034.4L2061.0,2032.9L2059.6,2031.4L2058.5,2029.9L2057.5,2028.3L2056.6,2026.6L2055.9,2024.9L2055.3,2023.0L2054.9,2021.1L2054.5,2019.0L2054.4,2016.8L2054.3,2014.5L2054.3,1846.0L2054.2,1842.1L2053.9,1838.4L2053.3,1834.8L2052.5,1831.4L2051.5,1828.1L2050.2,1825.0L2048.8,1822.1L2047.1,1819.3L2045.1,1816.7L2043.0,1814.3L2040.7,1812.1L2038.2,1810.1L2035.5,1808.3L2032.7,1806.7L2029.7,1805.3L2026.6,1804.0L2023.3,1803.0L2020.0,1802.1L2016.5,1801.3L2012.9,1800.7L2009.1,1800.3L2005.3,1800.0L2001.4,1799.8L1997.4,1799.7ZM1997.4,2302.6L2001.4,2302.5L2005.3,2302.3L2009.1,2302.0L2012.9,2301.6L2016.5,2301.0L2020.0,2300.2L2023.3,2299.3L2026.6,2298.3L2029.7,2297.0L2032.7,2295.6L2035.5,2294.0L2038.2,2292.2L2040.7,2290.2L2043.0,2288.0L2045.1,2285.6L2047.1,2283.0L2048.8,2280.2L2050.2,2277.3L2051.5,2274.2L2052.5,2270.9L2053.3,2267.5L2053.9,2263.9L2054.2,2260.2L2054.3,2256.3L2054.3,2086.5L2054.4,2084.2L2054.5,2082.0L2054.9,2079.9L2055.3,2078.0L2055.9,2076.1L2056.6,2074.4L2057.5,2072.7L2058.5,2071.1L2059.6,2069.6L2061.0,2068.1L2062.6,2066.6L2064.3,2065.2L2066.4,2063.8L2068.6,2062.5L2071.1,2061.3L2073.8,2060.1L2076.8,2059.0L2080.0,2058.0L2083.5,2057.1L2087.2,2056.3L2091.1,2055.6L2095.3,2054.9L2099.8,2054.4L2104.6,2054.0L2104.2,2047.0L2099.3,2047.1L2094.6,2047.2L2090.1,2047.6L2085.9,2048.0L2081.8,2048.5L2077.9,2049.2L2074.2,2050.0L2070.7,2051.0L2067.3,2052.0L2064.2,2053.3L2061.2,2054.7L2058.4,2056.2L2055.8,2057.9L2053.4,2059.8L2051.2,2061.8L2049.2,2064.0L2047.5,2066.4L2045.9,2068.9L2044.6,2071.6L2043.6,2074.4L2042.7,2077.3L2042.2,2080.3L2041.8,2083.3L2041.7,2086.5L2041.7,2256.3L2041.6,2259.4L2041.3,2262.4L2040.9,2265.1L2040.3,2267.6L2039.6,2270.0L2038.8,2272.1L2037.8,2274.1L2036.6,2275.9L2035.4,2277.6L2034.0,2279.2L2032.4,2280.7L2030.7,2282.0L2028.9,2283.3L2026.8,2284.4L2024.6,2285.5L2022.3,2286.4L2019.7,2287.2L2017.0,2288.0L2014.1,2288.6L2011.1,2289.1L2007.9,2289.5L2004.5,2289.8L2001.0,2289.9L1997.2,2290.0Z"/>
<path d="M2007.9,3310.3L2011.6,3310.4L2015.1,3310.5L2018.5,3310.8L2021.7,3311.2L2024.7,3311.7L2027.6,3312.3L2030.3,3313.1L2032.8,3313.9L2035.1,3314.8L2037.3,3315.9L2039.3,3317.0L2041.2,3318.3L2042.9,3319.6L2044.4,3321.1L2045.8,3322.7L2047.1,3324.3L2048.2,3326.2L2049.2,3328.2L2050.0,3330.3L2050.8,3332.7L2051.3,3335.2L2051.8,3337.9L2052.0,3340.9L2052.1,3344.0L2052.1,3588.0L2052.2,3591.1L2052.6,3594.2L2053.1,3597.2L2053.9,3600.1L2054.9,3602.8L2056.2,3605.5L2057.7,3608.0L2059.4,3610.4L2061.3,3612.6L2063.5,3614.7L2065.8,3616.5L2068.3,3618.3L2071.1,3619.8L2073.9,3621.2L2077.0,3622.4L2080.2,3623.5L2083.7,3624.5L2087.3,3625.3L2091.0,3626.0L2095.0,3626.5L2099.2,3626.9L2103.5,3627.2L2108.1,3627.4L2112.8,3627.5L2113.2,3620.5L2108.6,3620.1L2104.3,3619.6L2100.2,3618.9L2096.4,3618.2L2092.8,3617.4L2089.4,3616.5L2086.3,3615.5L2083.5,3614.4L2080.8,3613.2L2078.5,3612.0L2076.3,3610.7L2074.4,3609.4L2072.7,3608.0L2071.2,3606.5L2069.9,3605.0L2068.7,3603.4L2067.8,3601.8L2066.9,3600.2L2066.2,3598.4L2065.7,3596.6L2065.2,3594.6L2064.9,3592.5L2064.8,3590.3L2064.7,3588.0L2064.7,3344.0L2064.6,3340.1L2064.3,3336.4L2063.7,3332.8L2062.9,3329.4L2061.9,3326.1L2060.7,3323.0L2059.2,3320.1L2057.5,3317.3L2055.6,3314.7L2053.5,3312.3L2051.2,3310.1L2048.7,3308.1L2046.0,3306.3L2043.2,3304.7L2040.2,3303.3L2037.1,3302.1L2033.9,3301.0L2030.5,3300.1L2027.1,3299.3L2023.5,3298.7L2019.8,3298.3L2016.0,3298.0L2012.0,3297.8L2008.1,3297.7ZM2008.1,3953.9L2012.0,3953.8L2016.0,3953.6L2019.8,3953.3L2023.5,3952.9L2027.1,3952.3L2030.5,3951.5L2033.9,3950.6L2037.1,3949.5L2040.2,3948.3L2043.2,3946.9L2046.0,3945.3L2048.7,3943.5L2051.2,3941.5L2053.5,3939.3L2055.6,3936.9L2057.5,3934.3L2059.2,3931.5L2060.7,3928.6L2061.9,3925.5L2062.9,3922.2L2063.7,3918.8L2064.3,3915.2L2064.6,3911.5L2064.7,3907.6L2064.7,3660.0L2064.8,3657.7L2064.9,3655.5L2065.2,3653.4L2065.7,3651.4L2066.2,3649.6L2066.9,3647.8L2067.8,3646.2L2068.7,3644.6L2069.9,3643.0L2071.2,3641.5L2072.7,3640.0L2074.4,3638.6L2076.3,3637.3L2078.5,3636.0L2080.8,3634.8L2083.5,3633.6L2086.3,3632.5L2089.4,3631.5L2092.8,3630.6L2096.4,3629.8L2100.2,3629.1L2104.3,3628.4L2108.6,3627.9L2113.2,3627.5L2112.8,3620.5L2108.1,3620.6L2103.5,3620.8L2099.2,3621.1L2095.0,3621.5L2091.0,3622.0L2087.3,3622.7L2083.7,3623.5L2080.2,3624.5L2077.0,3625.6L2073.9,3626.8L2071.1,3628.2L2068.3,3629.7L2065.8,3631.5L2063.5,3633.3L2061.3,3635.4L2059.4,3637.6L2057.7,3640.0L2056.2,3642.5L2054.9,3645.2L2053.9,3647.9L2053.1,3650.8L2052.6,3653.8L2052.2,3656.9L2052.1,3660.0L2052.1,3907.6L2052.0,3910.7L2051.8,3913.7L2051.3,3916.4L2050.8,3918.9L2050.0,3921.3L2049.2,3923.4L2048.2,3925.4L2047.1,3927.3L2045.8,3928.9L2044.4,3930.5L2042.9,3932.0L2041.2,3933.3L2039.3,3934.6L2037.3,3935.7L2035.1,3936.8L2032.8,3937.7L2030.3,3938.5L2027.6,3939.3L2024.7,3939.9L2021.7,3940.4L2018.5,3940.8L2015.1,3941.1L2011.6,3941.2L2007.9,3941.3Z"/>
</g>
<text class="b" transform="translate(2015,1197) rotate(-90) scale(0.9,1)" font-size="69" letter-spacing="2.2">Group 1</text>
<text class="b" transform="translate(2170.5,2195) rotate(-90) scale(0.9,1)" font-size="69" letter-spacing="2.2">Group 2a</text>
<text class="b" transform="translate(2008.5,2668.5) rotate(-90) scale(0.9,1)" font-size="69" letter-spacing="2.2">Group 2</text>
<text class="b" transform="translate(1999.6,3918) rotate(-90) scale(0.9,1)" font-size="69" letter-spacing="2.2">Group 3</text>
<text class="b" transform="translate(2176.4,3752.5) rotate(-90) scale(0.9,1)" font-size="69" letter-spacing="2.2">Group 3a</text>
</svg></body></html>
